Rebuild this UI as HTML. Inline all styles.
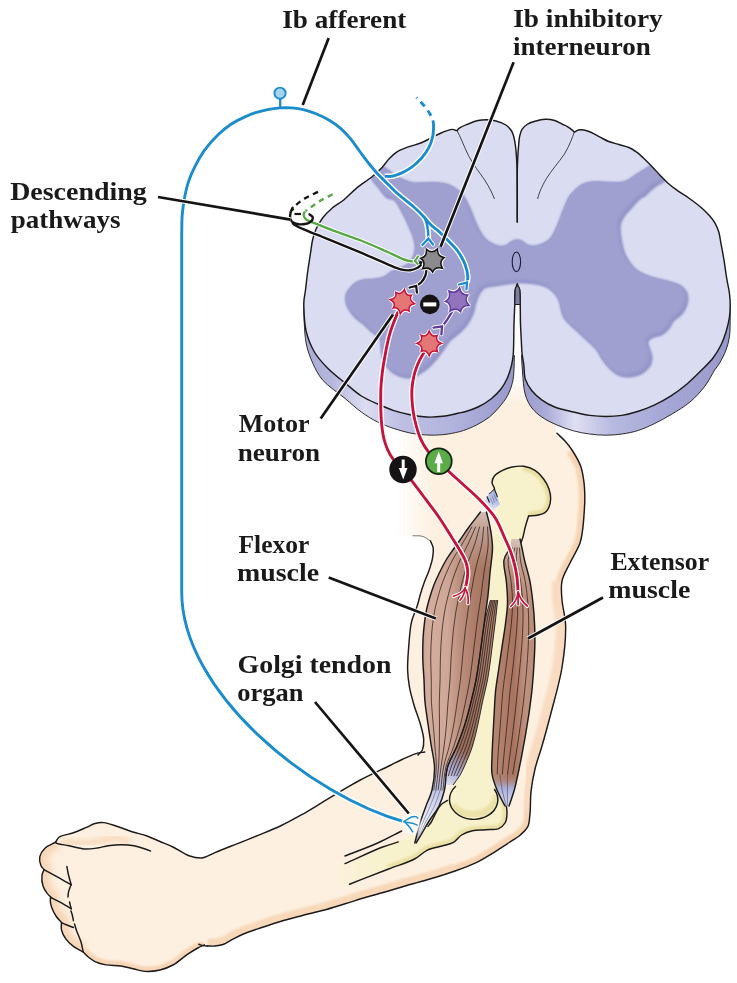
<!DOCTYPE html>
<html lang="en">
<head>
<meta charset="utf-8">
<title>Golgi tendon organ reflex circuit</title>
<style>
html,body{margin:0;padding:0;background:#fff;}
body{width:737px;height:983px;overflow:hidden;}
svg{display:block;}
.lbl{font-family:"Liberation Serif","DejaVu Serif",serif;font-weight:bold;font-size:26px;fill:#1a1a1a;}
.ld{stroke:#111;stroke-width:2.6;fill:none;stroke-linecap:butt;}
.ol{stroke:#1a1a1a;stroke-width:1.2;fill:none;stroke-linejoin:round;stroke-linecap:round;}
</style>
</head>
<body>
<svg width="737" height="983" viewBox="0 0 737 983">
<defs>
<linearGradient id="gFadeX" gradientUnits="userSpaceOnUse" x1="396" y1="0" x2="434" y2="0">
 <stop offset="0" stop-color="#fff" stop-opacity="1"/>
 <stop offset="1" stop-color="#fff" stop-opacity="0"/>
</linearGradient>
<linearGradient id="gFadeY" gradientUnits="userSpaceOnUse" x1="0" y1="375" x2="0" y2="405">
 <stop offset="0" stop-color="#fff" stop-opacity="1"/>
 <stop offset="1" stop-color="#fff" stop-opacity="0"/>
</linearGradient>
<linearGradient id="gMuscF" gradientUnits="userSpaceOnUse" x1="421" y1="0" x2="484" y2="0">
 <stop offset="0" stop-color="#c59c8b"/>
 <stop offset="0.1" stop-color="#d3ad9d"/>
 <stop offset="0.42" stop-color="#cfa797"/>
 <stop offset="0.6" stop-color="#bd917f"/>
 <stop offset="0.85" stop-color="#ad7d6a"/>
 <stop offset="1" stop-color="#a67663"/>
</linearGradient>
<linearGradient id="gMuscB" gradientUnits="userSpaceOnUse" x1="470" y1="0" x2="495" y2="0">
 <stop offset="0" stop-color="#9a6f5e"/>
 <stop offset="1" stop-color="#ae8472"/>
</linearGradient>
<linearGradient id="gMuscE" gradientUnits="userSpaceOnUse" x1="495" y1="0" x2="536" y2="0">
 <stop offset="0" stop-color="#b48672"/>
 <stop offset="0.45" stop-color="#a9745f"/>
 <stop offset="0.75" stop-color="#be917e"/>
 <stop offset="1" stop-color="#b98b78"/>
</linearGradient>
<linearGradient id="gSideL" gradientUnits="userSpaceOnUse" x1="304" y1="0" x2="515" y2="0">
 <stop offset="0" stop-color="#a9aad5"/>
 <stop offset="0.13" stop-color="#b6b7dd"/>
 <stop offset="0.29" stop-color="#dcddf1"/>
 <stop offset="0.46" stop-color="#bebfe3"/>
 <stop offset="0.7" stop-color="#b3b4dd"/>
 <stop offset="0.88" stop-color="#a2a3d2"/>
 <stop offset="1" stop-color="#9899cb"/>
</linearGradient>
<linearGradient id="gSideR" gradientUnits="userSpaceOnUse" x1="520" y1="0" x2="731" y2="0">
 <stop offset="0" stop-color="#9899cb"/>
 <stop offset="0.12" stop-color="#a9aad6"/>
 <stop offset="0.26" stop-color="#dfe0f3"/>
 <stop offset="0.43" stop-color="#b9bae0"/>
 <stop offset="0.66" stop-color="#a7a8d6"/>
 <stop offset="0.86" stop-color="#9fa0d0"/>
 <stop offset="1" stop-color="#9798ca"/>
</linearGradient>
<linearGradient id="gTendF" gradientUnits="userSpaceOnUse" x1="446" y1="762" x2="418" y2="838">
 <stop offset="0" stop-color="#b4b9de" stop-opacity="0"/>
 <stop offset="0.3" stop-color="#b9bee1" stop-opacity="0.95"/>
 <stop offset="0.6" stop-color="#dcdff2"/>
 <stop offset="1" stop-color="#ffffff"/>
</linearGradient>
<linearGradient id="gTendB" gradientUnits="userSpaceOnUse" x1="475" y1="758" x2="455" y2="790">
 <stop offset="0" stop-color="#a9afd9" stop-opacity="0"/>
 <stop offset="0.55" stop-color="#aab0da" stop-opacity="0.9"/>
 <stop offset="1" stop-color="#dfe2f3"/>
</linearGradient>
<linearGradient id="gTendE" gradientUnits="userSpaceOnUse" x1="0" y1="775" x2="0" y2="812">
 <stop offset="0" stop-color="#b48672" stop-opacity="0"/>
 <stop offset="0.35" stop-color="#aab0da"/>
 <stop offset="1" stop-color="#e9ebf7"/>
</linearGradient>
<linearGradient id="gTopF" gradientUnits="userSpaceOnUse" x1="0" y1="508" x2="0" y2="570">
 <stop offset="0" stop-color="#d8c8c0" stop-opacity="0.95"/>
 <stop offset="0.35" stop-color="#cdb3a7" stop-opacity="0.7"/>
 <stop offset="1" stop-color="#c9a898" stop-opacity="0"/>
</linearGradient>
<linearGradient id="gTopE" gradientUnits="userSpaceOnUse" x1="0" y1="537" x2="0" y2="600">
 <stop offset="0" stop-color="#dccbc2" stop-opacity="0.95"/>
 <stop offset="0.4" stop-color="#cdb3a7" stop-opacity="0.6"/>
 <stop offset="1" stop-color="#c9a898" stop-opacity="0"/>
</linearGradient>
<linearGradient id="gTendT" gradientUnits="userSpaceOnUse" x1="497" y1="492" x2="482" y2="512">
 <stop offset="0" stop-color="#9ea8dc"/>
 <stop offset="0.6" stop-color="#d5d9f0"/>
 <stop offset="1" stop-color="#ffffff"/>
</linearGradient>
<linearGradient id="gBoneFade" gradientUnits="userSpaceOnUse" x1="325" y1="0" x2="385" y2="0">
 <stop offset="0" stop-color="#f8f2cc" stop-opacity="0"/>
 <stop offset="1" stop-color="#f8f2cc" stop-opacity="1"/>
</linearGradient>
<filter id="b1" x="-10%" y="-10%" width="120%" height="120%"><feGaussianBlur stdDeviation="0.9"/></filter>
<filter id="b2" x="-20%" y="-20%" width="140%" height="140%"><feGaussianBlur stdDeviation="2"/></filter>
<filter id="b3" x="-20%" y="-20%" width="140%" height="140%"><feGaussianBlur stdDeviation="3"/></filter>
<filter id="b6" x="-20%" y="-20%" width="140%" height="140%"><feGaussianBlur stdDeviation="6"/></filter>
</defs>
<clipPath id="cSkin"><path d="M555.5,426.0C556.0,428.4 555.7,431.0 557.0,433.3C558.5,436.1 562.5,438.2 565.0,441.0C567.5,443.8 569.7,446.4 572.0,450.0C574.9,454.5 578.7,460.7 580.7,466.3C582.6,471.6 583.3,477.1 584.0,482.6C584.7,488.0 584.8,493.5 584.8,498.9C584.8,504.3 584.4,509.6 584.0,515.0C583.6,520.4 583.2,526.4 582.4,531.4C581.8,535.6 581.5,538.7 580.0,543.0C578.0,548.9 573.1,556.5 570.0,563.0C567.1,569.1 563.3,574.8 562.0,581.0C560.7,587.1 561.5,593.3 562.0,600.0C562.6,607.8 565.3,615.5 565.6,625.0C566.0,637.3 564.3,653.2 562.0,667.5C559.6,682.5 554.6,699.1 551.0,713.0C547.9,724.9 544.9,736.0 542.0,746.0C539.6,754.4 536.8,761.3 535.0,769.0C533.2,776.5 531.8,784.2 531.0,791.7C530.2,799.0 530.7,807.1 530.0,813.4C529.5,818.3 529.6,822.7 527.9,826.4C526.3,829.8 523.4,832.3 520.3,835.0C516.7,838.2 511.7,840.8 507.2,843.8C502.3,847.0 497.1,850.5 492.0,853.6C487.0,856.7 482.4,859.6 476.8,862.3C470.3,865.4 462.2,868.4 455.0,871.0C448.2,873.4 442.1,875.4 435.0,877.5C427.2,879.9 418.0,882.2 410.0,884.5C402.6,886.7 395.8,888.9 388.6,891.0C381.4,893.1 374.0,894.9 366.8,897.0C359.5,899.1 352.3,901.6 345.0,903.8C337.8,906.0 330.6,908.3 323.4,910.3C316.2,912.3 308.9,913.8 301.7,915.7C294.5,917.6 287.4,919.4 280.3,921.5C273.1,923.7 265.2,926.4 258.6,928.6C253.1,930.5 248.0,932.1 243.4,934.0C239.4,935.7 235.9,937.6 232.5,939.4C229.4,941.0 226.8,943.1 223.8,944.2C221.0,945.2 217.8,945.7 215.0,946.0C212.4,946.3 210.0,946.0 207.5,946.0L204.3,944.8C202.1,945.9 200.2,946.7 197.8,948.0C194.6,949.8 190.8,952.1 187.0,954.6C182.6,957.6 177.8,962.4 173.0,965.0C168.7,967.3 164.6,968.9 160.0,970.0C155.3,971.1 149.6,971.7 145.0,971.4C141.0,971.2 137.8,969.9 134.0,969.0C129.8,968.1 125.5,966.7 121.0,966.0C116.2,965.3 110.6,965.7 106.0,964.9C102.0,964.2 98.1,963.1 95.0,961.6C92.5,960.4 90.6,958.9 88.6,957.3C86.6,955.7 85.0,953.7 83.2,951.9C79.9,950.1 76.3,948.6 73.4,946.4C70.5,944.3 67.8,941.7 65.8,938.9C63.9,936.2 62.2,932.9 61.5,930.0C60.9,927.5 61.5,925.1 61.5,922.6C59.7,920.4 57.6,918.4 56.0,916.0C54.3,913.4 52.7,910.1 51.7,907.4C50.9,905.2 50.4,902.9 50.3,901.0C50.2,899.5 50.5,898.3 50.6,897.0C49.5,895.9 48.5,895.0 47.4,893.6C45.9,891.6 43.9,888.9 43.0,886.0C42.0,882.8 41.6,878.0 42.0,875.0C42.3,872.9 43.3,871.5 44.0,869.7C43.0,868.3 41.6,867.2 40.9,865.4C40.0,863.1 39.2,859.5 39.8,856.7C40.5,853.7 42.7,850.4 45.2,848.0C48.0,845.4 52.4,844.0 56.0,842.0L56.0,841.5C57.1,840.0 57.5,838.3 59.3,837.0C62.2,835.0 68.8,834.4 73.4,832.8C77.9,831.2 82.5,829.1 86.4,827.4C89.6,826.0 92.0,824.3 95.0,823.5C97.9,822.7 100.6,822.3 103.8,822.6C107.7,822.9 112.3,824.9 116.8,826.3C121.7,827.9 126.9,830.1 132.0,831.7C137.0,833.3 142.2,834.3 147.0,836.0C151.5,837.6 155.7,839.7 160.0,841.5C164.3,843.3 168.5,844.8 173.0,847.0C178.1,849.5 183.8,854.0 189.0,855.8C193.4,857.3 197.7,857.3 202.0,858.0C206.3,856.2 210.1,854.6 215.0,852.6C221.3,850.0 229.5,846.8 236.8,843.9C244.1,841.0 251.4,838.2 258.6,835.2C265.9,832.2 273.2,829.4 280.3,826.0C287.5,822.6 294.6,818.7 301.7,814.7C309.0,810.6 316.2,806.0 323.4,801.7C330.6,797.4 338.4,792.6 345.0,788.7C350.5,785.5 354.3,783.2 360.3,780.0C368.5,775.7 382.1,769.4 390.0,765.5C395.2,762.9 398.6,761.0 403.0,759.0C407.3,757.0 412.0,754.8 416.0,753.6C419.1,752.7 421.8,752.5 424.7,752.0L418.0,755.0C419.4,753.3 421.3,752.1 422.3,750.0C423.5,747.3 423.9,743.3 423.7,739.5C423.5,734.9 421.9,729.6 420.4,724.3C418.7,718.1 415.8,711.1 413.9,704.7C412.2,698.8 410.6,693.2 409.5,687.4C408.5,681.6 407.8,676.2 407.6,670.0C407.4,662.8 408.1,654.7 408.7,646.8C409.4,638.7 409.8,629.2 411.5,622.0C412.9,616.1 415.5,611.4 417.0,606.5C418.4,602.2 419.2,598.4 420.4,594.3C421.6,590.2 422.9,586.1 424.4,582.0C425.9,577.9 427.8,574.0 429.2,569.9C430.6,565.9 432.0,561.5 432.6,557.6C433.2,554.2 433.6,550.9 433.2,548.0C432.8,545.4 432.1,542.9 430.5,541.0C428.7,538.9 425.2,537.2 422.3,536.3C419.4,535.4 416.1,536.0 413.0,535.8L385,536 L385,370 L555.5,370 Z"/></clipPath>
<g clip-path="url(#cSkin)">
<rect x="0" y="360" width="737" height="623" fill="#fdf0e0"/>
<path d="M572.0,450.0C574.9,455.4 578.7,460.7 580.7,466.3C582.6,471.6 583.3,477.1 584.0,482.6C584.7,488.0 584.8,493.5 584.8,498.9C584.8,504.3 584.4,509.6 584.0,515.0C583.6,520.4 583.2,526.4 582.4,531.4C581.8,535.6 581.5,538.7 580.0,543.0C578.0,548.9 573.1,556.5 570.0,563.0C567.1,569.1 563.3,574.8 562.0,581.0C560.7,587.1 561.5,593.3 562.0,600.0C562.6,607.8 565.3,615.5 565.6,625.0C566.0,637.3 564.3,653.2 562.0,667.5C559.6,682.5 554.6,699.1 551.0,713.0C547.9,724.9 544.9,736.0 542.0,746.0C539.6,754.4 536.8,761.3 535.0,769.0C533.2,776.5 531.8,784.2 531.0,791.7C530.2,799.0 530.7,807.1 530.0,813.4C529.5,818.3 529.6,822.7 527.9,826.4C526.3,829.8 523.4,832.3 520.3,835.0C516.7,838.2 511.7,840.8 507.2,843.8C502.3,847.0 497.1,850.5 492.0,853.6C487.0,856.7 482.4,859.6 476.8,862.3C470.3,865.4 462.3,868.1 455.0,871.0" fill="none" stroke="#f6d2b0" stroke-width="12" filter="url(#b1)" opacity="0.95"/>
<path d="M562.0,581.0C562.0,587.3 561.5,593.3 562.0,600.0C562.6,607.8 565.3,615.5 565.6,625.0C566.0,637.3 564.3,653.2 562.0,667.5C559.6,682.5 554.6,699.1 551.0,713.0C547.9,724.9 544.9,736.0 542.0,746.0C539.6,754.4 536.8,761.3 535.0,769.0C533.2,776.5 531.8,784.2 531.0,791.7C530.2,799.0 530.3,806.2 530.0,813.4" fill="none" stroke="#f8dcc1" stroke-width="20" filter="url(#b1)" opacity="0.95"/>
<path d="M455.0,871.0C448.3,873.2 442.1,875.4 435.0,877.5C427.2,879.9 418.0,882.2 410.0,884.5C402.6,886.7 395.8,888.9 388.6,891.0C381.4,893.1 374.0,894.9 366.8,897.0C359.5,899.1 352.3,901.6 345.0,903.8C337.8,906.0 330.6,908.3 323.4,910.3C316.2,912.3 308.9,913.8 301.7,915.7C294.5,917.6 287.4,919.4 280.3,921.5C273.1,923.7 265.2,926.4 258.6,928.6C253.1,930.5 248.0,932.1 243.4,934.0C239.4,935.7 235.9,937.6 232.5,939.4C229.4,941.0 226.8,943.1 223.8,944.2C221.0,945.2 217.8,945.7 215.0,946.0C212.4,946.3 210.0,946.0 207.5,946.0" fill="none" stroke="#f6d2b0" stroke-width="15" filter="url(#b1)" opacity="0.8"/>
<path d="M204.3,944.8C202.1,945.9 200.2,946.7 197.8,948.0C194.6,949.8 190.8,952.1 187.0,954.6C182.6,957.6 177.8,962.4 173.0,965.0C168.7,967.3 164.6,968.9 160.0,970.0C155.3,971.1 149.6,971.7 145.0,971.4C141.0,971.2 137.8,969.9 134.0,969.0C129.8,968.1 125.5,966.7 121.0,966.0C116.2,965.3 110.6,965.7 106.0,964.9C102.0,964.2 98.1,963.1 95.0,961.6C92.5,960.4 90.6,958.9 88.6,957.3C86.6,955.7 85.0,953.7 83.2,951.9" fill="none" stroke="#f6d2b0" stroke-width="10" filter="url(#b1)" opacity="0.9"/>
<path d="M83.2,951.9C79.9,950.1 76.3,948.6 73.4,946.4C70.5,944.3 67.8,941.7 65.8,938.9C63.9,936.2 62.2,932.9 61.5,930.0C60.9,927.5 62.3,924.9 61.5,922.6C60.6,920.2 57.6,918.4 56.0,916.0C54.3,913.4 52.7,910.1 51.7,907.4C50.9,905.2 50.4,902.9 50.3,901.0C50.2,899.5 51.0,898.2 50.6,897.0C50.1,895.7 48.5,895.0 47.4,893.6C45.9,891.6 43.9,888.9 43.0,886.0C42.0,882.8 41.6,878.0 42.0,875.0C42.3,872.9 44.2,871.3 44.0,869.7C43.8,868.1 41.6,867.2 40.9,865.4C40.0,863.1 39.2,859.5 39.8,856.7C40.5,853.7 42.7,850.4 45.2,848.0C48.0,845.4 52.4,844.0 56.0,842.0" fill="none" stroke="#f6d2b0" stroke-width="16" filter="url(#b3)" opacity="0.85"/>
<path d="M62.0,842.0C69.7,842.3 78.2,843.3 85.0,843.0C90.5,842.8 95.0,841.8 100.0,841.0C105.0,840.2 110.0,837.8 115.0,838.0C120.0,838.2 125.0,840.7 130.0,842.0" fill="none" stroke="#f6d2b0" stroke-width="6" filter="url(#b2)" opacity="0.7"/>
<rect x="380" y="360" width="60" height="190" fill="url(#gFadeX)"/>
<rect x="380" y="360" width="220" height="50" fill="url(#gFadeY)"/>
</g>
<path d="M557.0,433.3C559.7,435.9 562.5,438.2 565.0,441.0C567.5,443.8 569.7,446.4 572.0,450.0C574.9,454.5 578.7,460.7 580.7,466.3C582.6,471.6 583.3,477.1 584.0,482.6C584.7,488.0 584.8,493.5 584.8,498.9C584.8,504.3 584.4,509.6 584.0,515.0C583.6,520.4 583.2,526.4 582.4,531.4C581.8,535.6 581.5,538.7 580.0,543.0C578.0,548.9 573.1,556.5 570.0,563.0C567.1,569.1 563.3,574.8 562.0,581.0C560.7,587.1 561.5,593.3 562.0,600.0C562.6,607.8 565.3,615.5 565.6,625.0C566.0,637.3 564.3,653.2 562.0,667.5C559.6,682.5 554.6,699.1 551.0,713.0C547.9,724.9 544.9,736.0 542.0,746.0C539.6,754.4 536.8,761.3 535.0,769.0C533.2,776.5 531.8,784.2 531.0,791.7C530.2,799.0 530.7,807.1 530.0,813.4C529.5,818.3 529.6,822.7 527.9,826.4C526.3,829.8 523.4,832.3 520.3,835.0C516.7,838.2 511.7,840.8 507.2,843.8C502.3,847.0 497.1,850.5 492.0,853.6C487.0,856.7 482.4,859.6 476.8,862.3C470.3,865.4 462.2,868.4 455.0,871.0C448.2,873.4 442.1,875.4 435.0,877.5C427.2,879.9 418.0,882.2 410.0,884.5C402.6,886.7 395.8,888.9 388.6,891.0C381.4,893.1 374.0,894.9 366.8,897.0C359.5,899.1 352.3,901.6 345.0,903.8C337.8,906.0 330.6,908.3 323.4,910.3C316.2,912.3 308.9,913.8 301.7,915.7C294.5,917.6 287.4,919.4 280.3,921.5C273.1,923.7 265.2,926.4 258.6,928.6C253.1,930.5 248.0,932.1 243.4,934.0C239.4,935.7 235.9,937.6 232.5,939.4C229.4,941.0 226.8,943.1 223.8,944.2C221.0,945.2 217.8,945.7 215.0,946.0C212.4,946.3 210.0,946.0 207.5,946.0" fill="none" stroke="#1c1a1a" stroke-width="1.45" stroke-linecap="round" stroke-linejoin="round"/>
<path d="M198.8,944.2C200.2,944.7 201.6,945.3 203.0,945.6C204.5,945.9 206.0,945.9 207.5,946.0" fill="none" stroke="#1c1a1a" stroke-width="1.45" stroke-linecap="round" stroke-linejoin="round"/>
<path d="M204.3,944.8C202.1,945.9 200.2,946.7 197.8,948.0C194.6,949.8 190.8,952.1 187.0,954.6C182.6,957.6 177.8,962.4 173.0,965.0C168.7,967.3 164.6,968.9 160.0,970.0C155.3,971.1 149.6,971.7 145.0,971.4C141.0,971.2 137.8,969.9 134.0,969.0C129.8,968.1 125.5,966.7 121.0,966.0C116.2,965.3 110.6,965.7 106.0,964.9C102.0,964.2 98.1,963.1 95.0,961.6C92.5,960.4 90.6,958.9 88.6,957.3C86.6,955.7 85.0,953.7 83.2,951.9" fill="none" stroke="#1c1a1a" stroke-width="1.45" stroke-linecap="round" stroke-linejoin="round"/>
<path d="M83.2,951.9C79.9,950.1 76.3,948.6 73.4,946.4C70.5,944.3 67.8,941.7 65.8,938.9C63.9,936.2 62.2,932.9 61.5,930.0C60.9,927.5 61.5,925.1 61.5,922.6" fill="none" stroke="#1c1a1a" stroke-width="1.45" stroke-linecap="round" stroke-linejoin="round"/>
<path d="M61.5,922.6C59.7,920.4 57.6,918.4 56.0,916.0C54.3,913.4 52.7,910.1 51.7,907.4C50.9,905.2 50.4,902.9 50.3,901.0C50.2,899.5 50.5,898.3 50.6,897.0" fill="none" stroke="#1c1a1a" stroke-width="1.45" stroke-linecap="round" stroke-linejoin="round"/>
<path d="M50.6,897.0C49.5,895.9 48.5,895.0 47.4,893.6C45.9,891.6 43.9,888.9 43.0,886.0C42.0,882.8 41.6,878.0 42.0,875.0C42.3,872.9 43.3,871.5 44.0,869.7" fill="none" stroke="#1c1a1a" stroke-width="1.45" stroke-linecap="round" stroke-linejoin="round"/>
<path d="M44.0,869.7C43.0,868.3 41.6,867.2 40.9,865.4C40.0,863.1 39.2,859.5 39.8,856.7C40.5,853.7 42.7,850.4 45.2,848.0C48.0,845.4 52.4,844.0 56.0,842.0" fill="none" stroke="#1c1a1a" stroke-width="1.45" stroke-linecap="round" stroke-linejoin="round"/>
<path d="M56.0,841.5C57.1,840.0 57.5,838.3 59.3,837.0C62.2,835.0 68.8,834.4 73.4,832.8C77.9,831.2 82.5,829.1 86.4,827.4C89.6,826.0 92.0,824.3 95.0,823.5C97.9,822.7 100.6,822.3 103.8,822.6C107.7,822.9 112.3,824.9 116.8,826.3C121.7,827.9 126.9,830.1 132.0,831.7C137.0,833.3 142.2,834.3 147.0,836.0C151.5,837.6 155.7,839.7 160.0,841.5C164.3,843.3 168.5,844.8 173.0,847.0C178.1,849.5 183.8,854.0 189.0,855.8C193.4,857.3 197.7,858.5 202.0,858.0C206.4,857.5 210.1,854.6 215.0,852.6C221.3,850.0 229.5,846.8 236.8,843.9C244.1,841.0 251.4,838.2 258.6,835.2C265.9,832.2 273.2,829.4 280.3,826.0C287.5,822.6 294.6,818.7 301.7,814.7C309.0,810.6 316.2,806.0 323.4,801.7C330.6,797.4 338.4,792.6 345.0,788.7C350.5,785.5 354.3,783.2 360.3,780.0C368.5,775.7 382.1,769.4 390.0,765.5C395.2,762.9 398.6,761.0 403.0,759.0C407.3,757.0 412.0,754.8 416.0,753.6C419.1,752.7 421.8,752.5 424.7,752.0" fill="none" stroke="#1c1a1a" stroke-width="1.45" stroke-linecap="round" stroke-linejoin="round"/>
<path d="M418.0,755.0C419.4,753.3 421.3,752.1 422.3,750.0C423.5,747.3 423.9,743.3 423.7,739.5C423.5,734.9 421.9,729.6 420.4,724.3C418.7,718.1 415.8,711.1 413.9,704.7C412.2,698.8 410.6,693.2 409.5,687.4C408.5,681.6 407.8,676.2 407.6,670.0C407.4,662.8 408.1,654.7 408.7,646.8C409.4,638.7 409.8,629.2 411.5,622.0C412.9,616.1 415.5,611.4 417.0,606.5C418.4,602.2 419.2,598.4 420.4,594.3C421.6,590.2 422.9,586.1 424.4,582.0C425.9,577.9 427.8,574.0 429.2,569.9C430.6,565.9 432.0,561.5 432.6,557.6C433.2,554.2 433.6,550.9 433.2,548.0C432.8,545.4 431.4,543.3 430.5,541.0" fill="none" stroke="#1c1a1a" stroke-width="1.45" stroke-linecap="round" stroke-linejoin="round"/>
<path d="M430.5,541.0C427.8,539.4 425.2,537.2 422.3,536.3C419.4,535.4 416.1,536.0 413.0,535.8" fill="none" stroke="#1c1a1a" stroke-width="1.0" stroke-linecap="round" opacity="0.6"/>
<path d="M56.0,843.0C56.7,843.2 57.1,843.4 58.0,843.7C60.2,844.3 65.0,845.0 69.0,845.8C73.7,846.7 79.4,848.7 84.3,849.0C88.8,849.3 93.2,848.6 97.3,848.0C101.1,847.5 104.2,846.3 108.0,845.8C112.1,845.2 116.7,844.7 121.0,844.7C125.3,844.7 129.9,845.0 134.0,845.8C137.9,846.5 142.0,848.0 145.0,849.0C147.2,849.7 148.7,850.3 150.5,851.0" fill="none" stroke="#1c1a1a" stroke-width="1.45" stroke-linecap="round" stroke-linejoin="round"/>
<path d="M44.0,869.7C48.7,872.2 53.6,874.7 58.2,877.3C62.7,879.8 66.9,882.4 71.3,885.0" fill="none" stroke="#1c1a1a" stroke-width="1.45" stroke-linecap="round" stroke-linejoin="round"/>
<path d="M50.6,897.5C53.9,899.1 57.1,900.5 60.4,902.3C64.0,904.2 67.7,906.6 71.3,908.8" fill="none" stroke="#1c1a1a" stroke-width="1.45" stroke-linecap="round" stroke-linejoin="round"/>
<path d="M61.5,922.6C63.3,923.4 65.1,924.2 67.0,925.0C69.0,925.8 71.3,926.7 73.4,927.5" fill="none" stroke="#1c1a1a" stroke-width="1.45" stroke-linecap="round" stroke-linejoin="round"/>
<path d="M66.9,866.5C67.4,869.3 67.8,872.1 68.5,875.0C69.3,878.2 70.4,881.7 71.3,885.0" fill="none" stroke="#1c1a1a" stroke-width="1.45" stroke-linecap="round" stroke-linejoin="round"/>
<path d="M70.5,886.0C69.8,888.0 68.9,890.1 68.5,892.0C68.1,893.7 68.2,895.3 68.0,897.0" fill="none" stroke="#1c1a1a" stroke-width="1.45" stroke-linecap="round" stroke-linejoin="round"/>
<path d="M69.5,902.0C69.8,903.3 70.2,904.8 70.5,906.0C70.8,907.0 71.0,907.9 71.3,908.8" fill="none" stroke="#1c1a1a" stroke-width="1.45" stroke-linecap="round" stroke-linejoin="round"/>
<path d="M71.0,911.0C71.5,912.7 72.1,914.3 72.5,916.0C72.9,917.6 73.1,919.1 73.4,920.7" fill="none" stroke="#1c1a1a" stroke-width="1.45" stroke-linecap="round" stroke-linejoin="round"/>
<path d="M74.5,924.0C75.2,926.3 75.8,928.4 76.7,931.0C77.9,934.3 79.9,938.4 81.0,942.0C82.0,945.3 82.5,948.6 83.2,951.9" fill="none" stroke="#1c1a1a" stroke-width="1.45" stroke-linecap="round" stroke-linejoin="round"/>
<path d="M335.0,867.5C338.3,866.2 340.6,865.4 345.0,863.6C353.5,860.1 372.1,851.1 382.0,847.3C388.5,844.8 392.9,844.1 398.3,841.9C403.9,839.7 409.8,836.7 415.0,834.0C419.7,831.5 425.2,828.9 428.0,826.4C429.7,824.9 430.2,823.8 431.3,822.0C432.7,819.7 434.0,816.2 435.6,813.4C437.2,810.5 438.8,806.9 441.0,804.7C442.9,802.8 445.3,801.8 447.5,800.4L470,790 L496.4,785.0C498.6,785.8 501.4,785.7 502.9,787.4C504.7,789.5 504.4,794.1 505.0,798.0C505.8,802.6 507.2,808.9 507.0,813.4C506.9,817.0 506.5,820.4 505.0,823.0C503.6,825.4 501.3,827.4 498.6,828.6C495.2,830.0 489.9,829.3 485.5,829.7C481.2,830.1 476.6,829.9 472.5,830.8C468.6,831.7 464.9,833.0 461.6,835.0C458.4,837.0 456.3,840.9 453.0,842.7C449.7,844.5 446.0,844.8 442.0,846.0C437.4,847.4 431.6,848.1 427.0,850.3C422.5,852.5 419.7,856.3 414.6,859.0C407.7,862.7 398.1,865.3 388.6,869.0C376.9,873.5 358.1,880.8 349.5,884.2C345.3,885.9 343.2,886.7 340.0,888.0Z" fill="url(#gBoneFade)"/>
<clipPath id="cUlna"><path d="M335.0,867.5C338.3,866.2 340.6,865.4 345.0,863.6C353.5,860.1 372.1,851.1 382.0,847.3C388.5,844.8 392.9,844.1 398.3,841.9C403.9,839.7 409.8,836.7 415.0,834.0C419.7,831.5 425.2,828.9 428.0,826.4C429.7,824.9 430.2,823.8 431.3,822.0C432.7,819.7 434.0,816.2 435.6,813.4C437.2,810.5 438.8,806.9 441.0,804.7C442.9,802.8 445.3,801.8 447.5,800.4L470,790 L496.4,785.0C498.6,785.8 501.4,785.7 502.9,787.4C504.7,789.5 504.4,794.1 505.0,798.0C505.8,802.6 507.2,808.9 507.0,813.4C506.9,817.0 506.5,820.4 505.0,823.0C503.6,825.4 501.3,827.4 498.6,828.6C495.2,830.0 489.9,829.3 485.5,829.7C481.2,830.1 476.6,829.9 472.5,830.8C468.6,831.7 464.9,833.0 461.6,835.0C458.4,837.0 456.3,840.9 453.0,842.7C449.7,844.5 446.0,844.8 442.0,846.0C437.4,847.4 431.6,848.1 427.0,850.3C422.5,852.5 419.7,856.3 414.6,859.0C407.7,862.7 398.1,865.3 388.6,869.0C376.9,873.5 358.1,880.8 349.5,884.2C345.3,885.9 343.2,886.7 340.0,888.0Z"/></clipPath>
<g clip-path="url(#cUlna)">
<path d="M388.6,869.0C397.3,865.7 407.7,862.7 414.6,859.0C419.7,856.3 422.5,852.5 427.0,850.3C431.6,848.1 437.4,847.4 442.0,846.0C446.0,844.8 449.7,844.5 453.0,842.7C456.3,840.9 458.4,837.0 461.6,835.0C464.9,833.0 468.6,831.7 472.5,830.8C476.6,829.9 481.2,830.1 485.5,829.7C489.9,829.3 495.2,830.0 498.6,828.6C501.3,827.4 503.6,825.4 505.0,823.0C506.5,820.4 506.9,817.0 507.0,813.4C507.2,808.9 505.8,802.6 505.0,798.0C504.4,794.1 504.7,789.5 502.9,787.4C501.4,785.7 498.6,785.8 496.4,785.0" fill="none" stroke="#e8dea0" stroke-width="9" filter="url(#b1)" opacity="0.9"/>
</g>
<path d="M349.5,884.2C362.5,879.1 376.9,873.5 388.6,869.0C398.1,865.3 407.7,862.7 414.6,859.0C419.7,856.3 422.5,852.5 427.0,850.3C431.6,848.1 437.4,847.4 442.0,846.0C446.0,844.8 449.7,844.5 453.0,842.7C456.3,840.9 458.4,837.0 461.6,835.0C464.9,833.0 468.6,831.7 472.5,830.8C476.6,829.9 481.2,830.1 485.5,829.7C489.9,829.3 495.2,830.0 498.6,828.6C501.3,827.4 503.6,825.4 505.0,823.0C506.5,820.4 506.9,817.0 507.0,813.4C507.2,808.9 505.8,802.6 505.0,798.0C504.4,794.1 504.7,789.5 502.9,787.4C501.4,785.7 498.6,785.8 496.4,785.0" fill="none" stroke="#1c1a1a" stroke-width="1.45" stroke-linecap="round" stroke-linejoin="round"/>
<path d="M345.0,856.0C355.9,851.7 367.7,847.5 377.7,843.0C386.4,839.1 393.6,835.0 401.6,831.0" fill="none" stroke="#1c1a1a" stroke-width="1.45" stroke-linecap="round" stroke-linejoin="round"/>
<path d="M345.0,863.6C357.3,858.2 372.1,851.1 382.0,847.3C388.5,844.8 392.9,843.7 398.3,841.9" fill="none" stroke="#1c1a1a" stroke-width="1.45" stroke-linecap="round" stroke-linejoin="round"/>
<path d="M428.0,826.4C429.1,824.9 430.2,823.8 431.3,822.0C432.7,819.7 434.0,816.2 435.6,813.4C437.2,810.5 438.8,806.9 441.0,804.7C442.9,802.8 445.3,801.8 447.5,800.4" fill="none" stroke="#1c1a1a" stroke-width="1.45" stroke-linecap="round" stroke-linejoin="round"/>
<path d="M487.0,496.5C487.8,495.7 488.5,495.0 489.5,494.0C490.9,492.6 494.0,490.9 494.4,489.0C494.8,487.1 492.0,484.8 492.0,482.6C492.0,480.4 492.9,477.9 494.4,476.0C496.2,473.7 499.6,471.9 502.6,470.4C505.6,468.9 508.9,467.7 512.3,467.0C515.9,466.3 520.0,465.8 523.7,466.3C527.5,466.9 531.7,468.3 535.0,470.4C538.2,472.4 541.0,475.4 543.3,478.5C545.7,481.6 547.8,485.4 549.0,489.0C550.1,492.3 550.7,495.8 550.6,498.9C550.6,501.7 550.0,504.6 549.0,507.0C548.1,509.2 546.8,511.4 545.0,512.7C543.2,514.0 540.9,514.5 538.4,515.0C535.5,515.6 531.9,515.7 528.6,516.0L528.6,516.0C527.5,519.5 526.4,522.8 525.4,526.5C524.2,530.7 523.8,535.2 522.0,540.0C519.7,546.1 514.6,553.1 512.0,560.0C509.4,567.0 507.1,574.4 506.4,581.7C505.7,588.9 507.7,596.2 507.5,603.4C507.3,610.6 506.2,617.8 505.3,625.0C504.4,632.3 502.9,638.8 502.0,646.8C500.9,656.7 501.3,670.0 499.9,680.0C498.7,688.3 496.1,694.3 495.0,702.6C493.6,712.4 493.5,725.3 493.0,735.0C492.6,743.0 492.2,750.0 492.0,756.8C491.9,762.9 491.5,769.2 492.0,774.0C492.4,777.5 493.3,780.0 494.0,783.0L450.0,789.5C451.7,787.3 453.5,785.3 455.0,783.0C456.5,780.8 457.5,778.6 459.0,776.0C460.8,772.8 463.0,769.2 465.0,765.0C467.5,759.6 470.4,752.6 472.5,746.0C474.7,739.0 476.0,731.3 477.5,724.0C479.0,716.7 480.1,709.3 481.5,702.0C482.9,694.7 484.8,687.4 486.0,680.0C487.3,672.6 488.4,665.9 489.0,657.7C489.7,647.9 489.5,635.3 489.5,625.0C489.5,615.8 489.3,606.8 489.0,599.0C488.7,592.6 488.2,587.8 487.9,581.7C487.5,574.9 485.9,566.5 486.8,560.0C487.6,554.5 490.6,550.4 491.9,545.0C493.4,539.0 494.1,531.5 495.0,525.6C495.8,520.7 496.0,515.9 497.0,512.0C497.8,508.9 499.0,506.7 500.0,504.0Z" fill="#f8f2cc"/>
<clipPath id="cHead"><path d="M487.0,496.5C487.8,495.7 488.5,495.0 489.5,494.0C490.9,492.6 494.0,490.9 494.4,489.0C494.8,487.1 492.0,484.8 492.0,482.6C492.0,480.4 492.9,477.9 494.4,476.0C496.2,473.7 499.6,471.9 502.6,470.4C505.6,468.9 508.9,467.7 512.3,467.0C515.9,466.3 520.0,465.8 523.7,466.3C527.5,466.9 531.7,468.3 535.0,470.4C538.2,472.4 541.0,475.4 543.3,478.5C545.7,481.6 547.8,485.4 549.0,489.0C550.1,492.3 550.7,495.8 550.6,498.9C550.6,501.7 550.0,504.6 549.0,507.0C548.1,509.2 546.8,511.4 545.0,512.7C543.2,514.0 540.9,514.5 538.4,515.0C535.5,515.6 531.9,515.7 528.6,516.0L520,530 Z"/></clipPath>
<g clip-path="url(#cHead)">
<path d="M523.7,466.3C527.5,467.7 531.7,468.3 535.0,470.4C538.2,472.4 541.0,475.4 543.3,478.5C545.7,481.6 547.8,485.4 549.0,489.0C550.1,492.3 550.7,495.8 550.6,498.9C550.6,501.7 550.0,504.6 549.0,507.0C548.1,509.2 546.8,511.4 545.0,512.7C543.2,514.0 540.9,514.5 538.4,515.0C535.5,515.6 531.9,515.7 528.6,516.0" fill="none" stroke="#e8dea0" stroke-width="9" filter="url(#b1)"/>
</g>
<path d="M489.5,494.0C491.1,492.3 494.0,490.9 494.4,489.0C494.8,487.1 492.0,484.8 492.0,482.6C492.0,480.4 492.9,477.9 494.4,476.0C496.2,473.7 499.6,471.9 502.6,470.4C505.6,468.9 508.9,467.7 512.3,467.0C515.9,466.3 520.0,465.8 523.7,466.3C527.5,466.9 531.7,468.3 535.0,470.4C538.2,472.4 541.0,475.4 543.3,478.5C545.7,481.6 547.8,485.4 549.0,489.0C550.1,492.3 550.7,495.8 550.6,498.9C550.6,501.7 550.0,504.6 549.0,507.0C548.1,509.2 546.8,511.4 545.0,512.7C543.2,514.0 540.9,514.5 538.4,515.0C535.5,515.6 531.9,515.7 528.6,516.0" fill="none" stroke="#1c1a1a" stroke-width="1.45" stroke-linecap="round" stroke-linejoin="round"/>
<path d="M528.6,516.0C527.5,519.5 526.4,522.8 525.4,526.5C524.2,530.7 523.8,535.2 522.0,540.0C519.7,546.1 515.3,553.3 512.0,560.0" fill="none" stroke="#1c1a1a" stroke-width="1.45" stroke-linecap="round" stroke-linejoin="round"/>
<ellipse cx="473.3" cy="799.3" rx="24.2" ry="19.8" fill="#f8f2cc"/>
<clipPath id="cBall"><ellipse cx="473.3" cy="799.3" rx="24.2" ry="19.8"/></clipPath>
<g clip-path="url(#cBall)">
<path d="M452,805 A24.2,19.8 0 0 0 497,795" fill="none" stroke="#e8dea0" stroke-width="8" filter="url(#b1)" opacity="0.8"/>
</g>
<path d="M455.5,786.5 A24.2,19.8 0 1 0 494.5,789.5" fill="none" stroke="#1c1a1a" stroke-width="1.45" stroke-linecap="round" stroke-linejoin="round"/>
<path d="M480.5,512.0C476.7,517.0 472.5,522.1 469.0,527.0C465.8,531.4 462.7,536.2 460.0,540.0C457.9,543.0 456.4,545.1 454.3,548.0C451.8,551.6 448.6,555.8 446.1,560.0C443.6,564.2 441.4,568.7 439.3,573.0C437.3,577.1 435.5,581.0 433.9,585.0C432.4,589.0 431.1,592.9 429.9,597.0C428.6,601.2 427.5,605.1 426.5,610.0C425.2,616.3 424.1,624.3 423.5,632.0C422.8,640.3 422.7,649.7 422.8,658.0C422.9,665.6 423.6,672.7 424.0,680.0C424.4,687.3 424.3,694.7 425.0,702.0C425.7,709.3 427.0,716.7 428.0,724.0C429.1,731.3 430.2,738.8 431.3,746.0C432.4,753.1 434.3,759.8 434.5,767.0C434.7,774.5 433.6,783.1 432.0,790.0C430.6,795.9 427.9,800.7 426.0,806.0C424.1,811.3 422.0,816.9 420.4,822.0C419.0,826.5 417.8,831.2 416.8,835.0C416.0,838.0 415.5,840.3 414.8,843.0L416.2,843.0C417.8,840.3 419.2,838.0 421.0,835.0C423.2,831.2 425.7,826.5 428.5,822.0C431.6,816.9 436.3,811.5 439.0,806.0C441.5,800.8 443.1,795.9 444.5,790.0C446.1,783.1 445.4,774.3 447.5,767.0C449.6,759.7 454.1,753.1 457.0,746.0C459.9,738.8 462.7,731.4 465.0,724.0C467.3,716.7 469.2,709.4 471.0,702.0C472.8,694.7 474.6,687.4 476.0,680.0C477.4,672.7 478.4,665.6 479.5,658.0C480.7,649.7 481.9,640.3 483.0,632.0C484.0,624.4 485.1,616.4 486.0,610.0C486.7,605.1 487.3,601.3 487.8,597.0C488.3,592.9 488.6,589.0 489.0,585.0C489.4,581.0 489.6,577.1 490.0,573.0C490.4,568.8 491.1,564.2 491.5,560.0C491.9,555.9 492.5,551.6 492.5,548.0C492.5,545.1 492.3,543.0 492.0,540.0C491.6,536.2 490.9,531.5 490.0,527.0C489.1,522.2 487.7,517.0 486.5,512.0Z" fill="url(#gMuscF)"/>
<path d="M490.5,600.0C488.7,606.7 486.4,613.3 485.0,620.0C483.6,626.6 483.0,633.3 482.0,640.0C481.0,646.7 480.2,653.3 479.2,660.0C478.2,666.7 477.3,673.2 476.0,680.0C474.6,687.2 472.8,694.7 471.0,702.0C469.2,709.4 467.3,716.7 465.0,724.0C462.7,731.4 459.8,739.0 457.0,746.0C454.3,752.6 450.5,759.5 448.5,765.0C447.0,769.1 446.4,772.5 445.5,776.0C444.7,779.1 444.2,782.0 443.5,785.0L453.0,785.0C455.2,782.0 457.5,779.2 459.5,776.0C461.6,772.6 463.1,769.2 465.0,765.0C467.4,759.6 470.4,752.6 472.5,746.0C474.7,739.0 476.3,731.4 478.0,724.0C479.7,716.7 480.9,709.3 482.5,702.0C484.1,694.7 486.1,687.2 487.5,680.0C488.8,673.2 489.6,666.7 490.5,660.0C491.4,653.3 492.2,646.7 493.0,640.0C493.8,633.3 494.7,626.7 495.5,620.0C496.3,613.3 497.0,606.7 497.7,600.0Z" fill="url(#gMuscB)"/>
<path d="M512.0,539.0C511.3,542.0 511.1,544.9 510.0,548.0C508.7,551.8 504.8,555.3 504.0,560.0C502.9,566.0 505.8,574.5 506.4,581.7C507.0,588.9 507.7,596.2 507.5,603.4C507.3,610.6 506.2,617.8 505.3,625.0C504.4,632.3 503.1,639.4 502.0,646.8C500.9,654.4 499.7,662.4 498.6,670.0C497.5,677.4 496.2,684.5 495.5,691.7C494.8,698.9 494.6,706.2 494.2,713.4C493.8,720.6 493.4,727.8 493.0,735.0C492.6,742.2 492.2,750.0 492.0,756.8C491.9,762.9 491.2,768.4 492.0,774.0C492.8,779.5 494.9,784.8 497.0,790.0C499.2,795.4 502.3,800.7 505.0,806.0L509.0,806.0C510.8,800.7 512.8,795.4 514.3,790.0C515.8,784.7 516.8,779.4 518.0,774.0C519.2,768.4 520.3,762.9 521.5,756.8C522.8,750.0 524.2,742.3 525.5,735.0C526.7,727.8 527.9,720.6 529.0,713.4C530.0,706.2 531.0,698.9 531.8,691.7C532.6,684.5 533.1,677.4 533.6,670.0C534.1,662.4 534.6,654.4 534.8,646.8C535.0,639.4 534.9,632.2 534.6,625.0C534.3,617.8 533.8,610.6 533.0,603.4C532.2,596.2 531.4,588.9 530.0,581.7C528.6,574.4 525.9,566.2 524.5,560.0C523.4,555.4 522.8,551.7 522.0,548.0C521.3,544.8 520.7,542.0 520.0,539.0Z" fill="url(#gMuscE)"/>
<path d="M480.5,512.0C476.7,517.0 472.5,522.1 469.0,527.0C465.8,531.4 462.7,536.2 460.0,540.0C457.9,543.0 456.4,545.1 454.3,548.0C451.8,551.6 448.6,555.8 446.1,560.0C443.6,564.2 441.4,568.7 439.3,573.0C437.3,577.1 435.7,581.0 433.9,585.0L489.0,585.0C489.3,581.0 489.6,577.1 490.0,573.0C490.4,568.8 491.1,564.2 491.5,560.0C491.9,555.9 492.5,551.6 492.5,548.0C492.5,545.1 492.3,543.0 492.0,540.0C491.6,536.2 490.9,531.5 490.0,527.0C489.1,522.2 487.7,517.0 486.5,512.0Z" fill="url(#gTopF)"/>
<path d="M512.0,539.0C511.3,542.0 511.1,544.9 510.0,548.0C508.7,551.8 504.8,555.3 504.0,560.0C502.9,566.0 505.8,574.5 506.4,581.7C507.0,588.9 507.1,596.2 507.5,603.4L533.0,603.4C532.0,596.2 531.4,588.9 530.0,581.7C528.6,574.4 525.9,566.2 524.5,560.0C523.4,555.4 522.8,551.7 522.0,548.0C521.3,544.8 520.7,542.0 520.0,539.0Z" fill="url(#gTopE)"/>
<path d="M490.5,600.0C488.7,606.7 486.4,613.3 485.0,620.0C483.6,626.6 483.0,633.3 482.0,640.0C481.0,646.7 480.2,653.3 479.2,660.0C478.2,666.7 477.3,673.2 476.0,680.0C474.6,687.2 472.8,694.7 471.0,702.0C469.2,709.4 467.3,716.7 465.0,724.0C462.7,731.4 459.8,739.0 457.0,746.0C454.3,752.6 450.5,759.5 448.5,765.0C447.0,769.1 446.4,772.5 445.5,776.0C444.7,779.1 444.2,782.0 443.5,785.0L453.0,785.0C455.2,782.0 457.5,779.2 459.5,776.0C461.6,772.6 463.1,769.2 465.0,765.0C467.4,759.6 470.4,752.6 472.5,746.0C474.7,739.0 476.3,731.4 478.0,724.0C479.7,716.7 480.9,709.3 482.5,702.0C484.1,694.7 486.1,687.2 487.5,680.0C488.8,673.2 489.6,666.7 490.5,660.0C491.4,653.3 492.2,646.7 493.0,640.0C493.8,633.3 494.7,626.7 495.5,620.0C496.3,613.3 497.0,606.7 497.7,600.0Z" fill="url(#gTendB)"/>
<path d="M428.0,724.0C429.1,731.3 430.2,738.8 431.3,746.0C432.4,753.1 434.3,759.8 434.5,767.0C434.7,774.5 433.6,783.1 432.0,790.0C430.6,795.9 427.9,800.7 426.0,806.0C424.1,811.3 422.0,816.9 420.4,822.0C419.0,826.5 417.8,831.2 416.8,835.0C416.0,838.0 415.5,840.3 414.8,843.0L416.2,843.0C417.8,840.3 419.2,838.0 421.0,835.0C423.2,831.2 425.7,826.5 428.5,822.0C431.6,816.9 436.3,811.5 439.0,806.0C441.5,800.8 443.1,795.9 444.5,790.0C446.1,783.1 445.4,774.3 447.5,767.0C449.6,759.7 454.1,753.1 457.0,746.0C459.9,738.8 462.3,731.3 465.0,724.0Z" fill="url(#gTendF)"/>
<path d="M492.0,756.8C492.0,762.5 491.2,768.4 492.0,774.0C492.8,779.5 494.9,784.8 497.0,790.0C499.2,795.4 502.3,800.7 505.0,806.0L509.0,806.0C510.8,800.7 512.8,795.4 514.3,790.0C515.8,784.7 516.8,779.4 518.0,774.0C519.2,768.4 520.3,762.5 521.5,756.8Z" fill="url(#gTendE)"/>
<path d="M487,496.3 L494.3,489.8 L500,504.4 L492.7,510 L480.5,512.6 Z" fill="url(#gTendT)"/>
<path d="M471.9,527.0C469.5,531.3 466.7,536.2 464.5,540.0C462.7,543.0 461.4,545.1 459.6,548.0C457.5,551.6 454.7,555.9 452.5,560.0C450.2,564.2 448.2,568.7 446.4,573.0C444.6,577.1 443.0,581.0 441.6,585.0C440.2,589.0 439.1,592.9 438.0,597.0C436.9,601.2 435.8,605.1 434.8,610.0C433.6,616.3 432.5,624.3 431.8,632.0C431.1,640.3 430.8,649.7 430.7,658.0C430.7,665.6 431.2,672.7 431.3,680.0C431.4,687.3 431.1,694.7 431.4,702.0C431.8,709.3 432.6,716.7 433.2,724.0C433.8,731.3 434.4,738.8 434.9,746.0C435.4,753.1 436.5,759.8 436.3,767.0C436.2,774.5 434.6,782.3 433.8,790.0" fill="none" stroke="#2a1d18" stroke-width="0.75" stroke-linecap="round"/>
<path d="M475.5,527.0C473.6,531.3 471.6,536.2 469.9,540.0C468.6,543.0 467.6,545.1 466.1,548.0C464.4,551.6 462.0,555.9 460.2,560.0C458.3,564.2 456.6,568.7 455.0,573.0C453.5,577.1 452.2,581.0 451.0,585.0C449.8,589.0 448.8,592.9 447.8,597.0C446.8,601.2 445.8,605.1 444.9,610.0C443.8,616.4 442.7,624.3 441.9,632.0C441.1,640.3 440.7,649.7 440.4,658.0C440.1,665.6 440.3,672.7 440.1,680.0C439.9,687.3 439.4,694.7 439.3,702.0C439.2,709.3 439.5,716.7 439.5,724.0C439.5,731.3 439.4,738.8 439.3,746.0C439.1,753.1 439.1,759.9 438.5,767.0C438.0,774.5 436.8,782.3 435.9,790.0" fill="none" stroke="#2a1d18" stroke-width="0.75" stroke-linecap="round"/>
<path d="M479.5,527.0C478.3,531.3 477.1,536.2 476.0,540.0C475.1,543.0 474.4,545.1 473.4,548.0C472.1,551.6 470.2,555.9 468.8,560.0C467.3,564.2 465.9,568.7 464.6,573.0C463.5,577.1 462.4,581.0 461.4,585.0C460.5,589.0 459.7,592.9 458.9,597.0C458.0,601.2 457.1,605.1 456.2,610.0C455.2,616.4 454.1,624.3 453.2,632.0C452.4,640.3 451.7,649.7 451.1,658.0C450.6,665.6 450.5,672.7 450.0,680.0C449.5,687.3 448.6,694.7 448.0,702.0C447.4,709.3 447.1,716.7 446.5,724.0C445.9,731.3 445.1,738.8 444.1,746.0C443.2,753.1 442.0,759.8 441.0,767.0C440.0,774.5 439.2,782.3 438.2,790.0" fill="none" stroke="#2a1d18" stroke-width="0.75" stroke-linecap="round"/>
<path d="M483.7,527.0C483.3,531.3 482.9,536.2 482.4,540.0C482.0,543.0 481.7,545.1 481.0,548.0C480.3,551.6 478.9,555.9 477.9,560.0C476.8,564.2 475.7,568.7 474.8,573.0C473.9,577.1 473.2,581.0 472.5,585.0C471.7,589.0 471.1,592.9 470.4,597.0C469.7,601.2 468.9,605.1 468.1,610.0C467.2,616.4 466.1,624.4 465.1,632.0C464.2,640.3 463.3,649.7 462.5,658.0C461.7,665.6 461.3,672.7 460.4,680.0C459.5,687.3 458.3,694.7 457.2,702.0C456.1,709.3 455.2,716.7 453.9,724.0C452.6,731.4 451.0,738.8 449.3,746.0C447.6,753.1 445.0,759.8 443.6,767.0C442.1,774.4 441.7,782.3 440.8,790.0" fill="none" stroke="#2a1d18" stroke-width="0.75" stroke-linecap="round"/>
<path d="M487.5,527.0C487.7,531.3 488.1,536.2 488.2,540.0C488.2,543.0 488.2,545.1 487.9,548.0C487.6,551.6 486.7,555.9 486.1,560.0C485.4,564.2 484.5,568.7 483.9,573.0C483.3,577.1 482.9,581.0 482.4,585.0C481.9,589.0 481.4,592.9 480.9,597.0C480.3,601.3 479.6,605.1 478.9,610.0C477.9,616.4 476.8,624.4 475.9,632.0C474.8,640.3 473.8,649.7 472.7,658.0C471.7,665.6 471.0,672.7 469.8,680.0C468.6,687.4 467.0,694.7 465.5,702.0C463.9,709.3 462.5,716.7 460.6,724.0C458.6,731.4 456.4,738.8 453.9,746.0C451.5,753.1 447.8,759.7 445.9,767.0C444.1,774.4 444.0,782.3 443.0,790.0" fill="none" stroke="#2a1d18" stroke-width="0.75" stroke-linecap="round"/>
<path d="M436.1,790.0C434.2,795.3 432.4,800.7 430.3,806.0C428.1,811.4 425.2,816.9 423.1,822.0C421.2,826.5 419.6,831.2 418.2,835.0C417.1,838.0 416.2,840.3 415.3,843.0" fill="none" stroke="#5a5a78" stroke-width="0.55"/>
<path d="M440.2,790.0C438.4,795.3 436.9,800.8 434.6,806.0C432.1,811.4 428.4,816.9 425.7,822.0C423.4,826.5 421.4,831.2 419.6,835.0C418.1,838.0 417.0,840.3 415.7,843.0" fill="none" stroke="#5a5a78" stroke-width="0.55"/>
<path d="M491.9,600.0C490.3,606.7 488.4,613.3 487.1,620.0C485.8,626.6 485.1,633.3 484.2,640.0C483.3,646.7 482.4,653.3 481.5,660.0C480.5,666.7 479.6,673.2 478.3,680.0C476.9,687.2 475.1,694.7 473.3,702.0C471.5,709.3 469.8,716.7 467.6,724.0C465.4,731.4 462.8,739.0 460.1,746.0C457.5,752.6 453.9,759.5 451.8,765.0C450.2,769.1 449.5,772.3 448.3,776.0" fill="none" stroke="#2e201a" stroke-width="0.8"/>
<path d="M493.4,600.0C492.0,606.7 490.4,613.3 489.2,620.0C488.0,626.6 487.3,633.3 486.4,640.0C485.5,646.7 484.7,653.3 483.7,660.0C482.8,666.7 481.9,673.2 480.6,680.0C479.2,687.2 477.3,694.7 475.6,702.0C473.9,709.3 472.3,716.7 470.2,724.0C468.1,731.4 465.8,739.0 463.2,746.0C460.7,752.6 457.3,759.5 455.1,765.0C453.5,769.1 452.4,772.3 451.1,776.0" fill="none" stroke="#2e201a" stroke-width="0.8"/>
<path d="M494.8,600.0C493.6,606.7 492.3,613.3 491.3,620.0C490.3,626.7 489.5,633.3 488.6,640.0C487.7,646.7 486.9,653.3 486.0,660.0C485.0,666.7 484.2,673.2 482.9,680.0C481.5,687.2 479.6,694.7 477.9,702.0C476.2,709.3 474.7,716.7 472.8,724.0C470.9,731.4 468.8,739.0 466.3,746.0C463.9,752.6 460.7,759.5 458.4,765.0C456.7,769.2 455.4,772.3 453.9,776.0" fill="none" stroke="#2e201a" stroke-width="0.8"/>
<path d="M496.3,600.0C495.3,606.7 494.3,613.3 493.4,620.0C492.5,626.7 491.7,633.3 490.8,640.0C489.9,646.7 489.2,653.3 488.2,660.0C487.3,666.7 486.5,673.2 485.2,680.0C483.8,687.2 481.8,694.7 480.2,702.0C478.6,709.3 477.2,716.7 475.4,724.0C473.6,731.4 471.8,739.0 469.4,746.0C467.2,752.6 464.0,759.5 461.7,765.0C459.9,769.2 458.4,772.3 456.7,776.0" fill="none" stroke="#2e201a" stroke-width="0.8"/>
<path d="M512.4,548.0C511.0,552.0 508.6,555.3 508.1,560.0C507.5,566.1 510.4,574.5 511.1,581.7C511.9,588.9 512.6,596.2 512.6,603.4C512.6,610.6 511.8,617.8 511.2,625.0C510.5,632.3 509.5,639.4 508.6,646.8C507.6,654.4 506.6,662.4 505.6,670.0C504.6,677.4 503.5,684.5 502.8,691.7C502.0,698.9 501.7,706.2 501.2,713.4C500.6,720.6 500.0,727.8 499.5,735.0C499.0,742.2 498.3,750.0 497.9,756.8C497.6,762.9 497.4,768.3 497.2,774.0" fill="none" stroke="#2a1d18" stroke-width="0.75" stroke-linecap="round"/>
<path d="M514.8,548.0C513.9,552.0 512.3,555.4 512.2,560.0C512.1,566.2 514.9,574.4 515.8,581.7C516.8,588.9 517.5,596.2 517.7,603.4C517.9,610.6 517.4,617.8 517.0,625.0C516.6,632.3 515.8,639.4 515.1,646.8C514.4,654.4 513.5,662.4 512.6,670.0C511.8,677.4 510.8,684.5 510.0,691.7C509.3,698.9 508.8,706.2 508.1,713.4C507.5,720.6 506.7,727.8 506.0,735.0C505.3,742.3 504.4,750.0 503.8,756.8C503.2,762.9 502.9,768.3 502.4,774.0" fill="none" stroke="#2a1d18" stroke-width="0.75" stroke-linecap="round"/>
<path d="M517.2,548.0C516.9,552.0 516.0,555.4 516.3,560.0C516.7,566.2 519.5,574.4 520.6,581.7C521.6,588.9 522.4,596.2 522.8,603.4C523.2,610.6 523.1,617.8 522.9,625.0C522.7,632.3 522.2,639.4 521.7,646.8C521.1,654.4 520.3,662.4 519.6,670.0C518.9,677.4 518.0,684.5 517.3,691.7C516.5,698.9 515.9,706.2 515.1,713.4C514.3,720.6 513.4,727.8 512.5,735.0C511.6,742.3 510.6,750.0 509.7,756.8C508.9,762.9 508.3,768.3 507.6,774.0" fill="none" stroke="#2a1d18" stroke-width="0.75" stroke-linecap="round"/>
<path d="M519.6,548.0C519.9,552.0 519.7,555.4 520.4,560.0C521.3,566.2 524.0,574.4 525.3,581.7C526.5,588.9 527.3,596.2 527.9,603.4C528.5,610.6 528.7,617.8 528.7,625.0C528.8,632.2 528.6,639.4 528.2,646.8C527.9,654.4 527.2,662.4 526.6,670.0C526.0,677.4 525.3,684.5 524.5,691.7C523.8,698.9 523.0,706.2 522.0,713.4C521.1,720.6 520.1,727.8 519.0,735.0C517.9,742.3 516.7,750.0 515.6,756.8C514.6,762.9 513.7,768.3 512.8,774.0" fill="none" stroke="#2a1d18" stroke-width="0.75" stroke-linecap="round"/>
<path d="M499.8,774.0C500.6,779.3 501.1,784.7 502.2,790.0C503.3,795.4 504.9,800.7 506.2,806.0" fill="none" stroke="#4a4660" stroke-width="0.6"/>
<path d="M507.6,774.0C507.5,779.3 507.4,784.7 507.4,790.0C507.3,795.3 507.4,800.7 507.4,806.0" fill="none" stroke="#4a4660" stroke-width="0.6"/>
<path d="M480.5,512.0C476.7,517.0 472.5,522.1 469.0,527.0C465.8,531.4 462.7,536.2 460.0,540.0C457.9,543.0 456.4,545.1 454.3,548.0C451.8,551.6 448.6,555.8 446.1,560.0C443.6,564.2 441.4,568.7 439.3,573.0C437.3,577.1 435.5,581.0 433.9,585.0C432.4,589.0 431.1,592.9 429.9,597.0C428.6,601.2 427.5,605.1 426.5,610.0C425.2,616.3 424.1,624.3 423.5,632.0C422.8,640.3 422.7,649.7 422.8,658.0C422.9,665.6 423.6,672.7 424.0,680.0C424.4,687.3 424.3,694.7 425.0,702.0C425.7,709.3 427.0,716.7 428.0,724.0C429.1,731.3 430.2,738.8 431.3,746.0C432.4,753.1 434.3,759.8 434.5,767.0C434.7,774.5 433.6,783.1 432.0,790.0C430.6,795.9 427.9,800.7 426.0,806.0C424.1,811.3 422.0,816.9 420.4,822.0C419.0,826.5 417.8,831.2 416.8,835.0C416.0,838.0 415.5,840.3 414.8,843.0" fill="none" stroke="#1c1a1a" stroke-width="1.45" stroke-linecap="round" stroke-linejoin="round"/>
<path d="M486.5,512.0C487.7,517.0 489.1,522.2 490.0,527.0C490.9,531.5 491.6,536.2 492.0,540.0C492.3,543.0 492.5,545.1 492.5,548.0C492.5,551.6 491.9,555.9 491.5,560.0C491.1,564.2 490.4,568.8 490.0,573.0C489.6,577.1 489.4,581.0 489.0,585.0C488.6,589.0 488.3,592.9 487.8,597.0C487.3,601.3 486.7,605.1 486.0,610.0C485.1,616.4 484.0,624.4 483.0,632.0C481.9,640.3 480.7,649.7 479.5,658.0C478.4,665.6 477.4,672.7 476.0,680.0C474.6,687.4 472.8,694.7 471.0,702.0C469.2,709.4 467.3,716.7 465.0,724.0C462.7,731.4 459.9,738.8 457.0,746.0C454.1,753.1 449.6,759.7 447.5,767.0C445.4,774.3 446.1,783.1 444.5,790.0C443.1,795.9 441.5,800.8 439.0,806.0C436.3,811.5 431.6,816.9 428.5,822.0C425.7,826.5 423.2,831.2 421.0,835.0C419.2,838.0 417.8,840.3 416.2,843.0" fill="none" stroke="#1c1a1a" stroke-width="1.45" stroke-linecap="round" stroke-linejoin="round"/>
<path d="M490.5,600.0C488.7,606.7 486.4,613.3 485.0,620.0C483.6,626.6 483.0,633.3 482.0,640.0C481.0,646.7 480.2,653.3 479.2,660.0C478.2,666.7 477.3,673.2 476.0,680.0C474.6,687.2 472.8,694.7 471.0,702.0C469.2,709.4 467.3,716.7 465.0,724.0C462.7,731.4 459.8,739.0 457.0,746.0C454.3,752.6 450.5,759.5 448.5,765.0C447.0,769.1 446.5,772.3 445.5,776.0" fill="none" stroke="#1c1a1a" stroke-width="0.9"/>
<path d="M497.7,600.0C497.0,606.7 496.3,613.3 495.5,620.0C494.7,626.7 493.8,633.3 493.0,640.0C492.2,646.7 491.4,653.3 490.5,660.0C489.6,666.7 488.8,673.2 487.5,680.0C486.1,687.2 484.1,694.7 482.5,702.0C480.9,709.3 479.7,716.7 478.0,724.0C476.3,731.4 474.7,739.0 472.5,746.0C470.4,752.6 467.4,759.6 465.0,765.0C463.1,769.2 461.6,772.6 459.5,776.0C457.5,779.2 455.2,782.0 453.0,785.0" fill="none" stroke="#1c1a1a" stroke-width="0.9"/>
<path d="M510.0,548.0C508.0,552.0 504.8,555.3 504.0,560.0C502.9,566.0 505.8,574.5 506.4,581.7C507.0,588.9 507.7,596.2 507.5,603.4C507.3,610.6 506.2,617.8 505.3,625.0C504.4,632.3 503.1,639.4 502.0,646.8C500.9,654.4 499.7,662.4 498.6,670.0C497.5,677.4 496.2,684.5 495.5,691.7C494.8,698.9 494.6,706.2 494.2,713.4C493.8,720.6 493.4,727.8 493.0,735.0C492.6,742.2 492.2,750.0 492.0,756.8C491.9,762.9 491.2,768.4 492.0,774.0C492.8,779.5 494.9,784.8 497.0,790.0C499.2,795.4 502.3,800.7 505.0,806.0" fill="none" stroke="#1c1a1a" stroke-width="1.45" stroke-linecap="round" stroke-linejoin="round"/>
<path d="M520.0,539.0C520.7,542.0 521.3,544.8 522.0,548.0C522.8,551.7 523.4,555.4 524.5,560.0C525.9,566.2 528.6,574.4 530.0,581.7C531.4,588.9 532.2,596.2 533.0,603.4C533.8,610.6 534.3,617.8 534.6,625.0C534.9,632.2 535.0,639.4 534.8,646.8C534.6,654.4 534.1,662.4 533.6,670.0C533.1,677.4 532.6,684.5 531.8,691.7C531.0,698.9 530.0,706.2 529.0,713.4C527.9,720.6 526.7,727.8 525.5,735.0C524.2,742.3 522.8,750.0 521.5,756.8C520.3,762.9 519.2,768.4 518.0,774.0C516.8,779.4 515.8,784.7 514.3,790.0C512.8,795.4 510.8,800.7 509.0,806.0" fill="none" stroke="#1c1a1a" stroke-width="1.45" stroke-linecap="round" stroke-linejoin="round"/>
<path d="M494.4,489 L497.5,497 M487,496.5 L489.5,502.5" fill="none" stroke="#1c1a1a" stroke-width="1.1"/>
<path d="M490.4,498.2 L493.1,504.7" fill="none" stroke="#5b6aa8" stroke-width="0.7"/>
<path d="M492.2,496.4 L494.9,502.9" fill="none" stroke="#5b6aa8" stroke-width="0.7"/>
<path d="M494.1,494.6 L496.8,501.1" fill="none" stroke="#5b6aa8" stroke-width="0.7"/>
<path d="M303.8,306.0C304.5,314.2 304.2,322.9 306.0,330.7C307.8,338.2 310.7,345.7 314.4,352.0C317.9,358.0 322.6,363.0 327.5,368.0C332.7,373.3 339.2,378.2 345.0,383.0C350.5,387.5 355.7,392.4 361.3,396.0C366.6,399.3 372.1,401.6 377.6,404.0C383.0,406.4 388.4,408.8 393.9,410.6C399.2,412.3 404.6,413.6 410.0,414.7C415.4,415.8 420.9,416.7 426.4,417.0C431.8,417.3 437.3,417.0 442.7,416.3C448.2,415.6 454.9,413.9 459.0,413.0C461.5,412.5 462.6,412.4 465.0,411.7C468.5,410.7 473.8,409.0 478.0,407.0C482.4,404.9 487.1,402.1 491.0,399.0C494.7,396.0 498.2,392.6 501.0,389.0C503.7,385.5 505.7,381.8 507.5,377.8C509.3,373.7 510.6,368.9 511.6,364.8C512.4,361.3 512.7,358.3 513.2,355.0L514.3,355.0C514.2,359.9 514.3,365.0 514.0,369.7C513.7,374.2 513.5,378.4 512.4,382.7C511.3,387.1 509.7,391.7 507.5,395.7C505.3,399.8 502.3,403.5 499.3,407.0C496.3,410.5 493.3,414.0 489.6,416.9C485.7,420.0 480.8,422.7 476.5,425.0C472.6,427.0 468.2,428.8 465.0,430.0C462.7,430.8 461.5,431.2 459.0,431.8C454.9,432.8 448.2,434.2 442.7,434.7C437.3,435.2 431.8,435.3 426.4,435.0C420.9,434.7 415.4,434.1 410.0,433.0C404.6,431.9 399.2,430.3 393.9,428.5C388.4,426.7 382.9,424.7 377.6,422.0C372.0,419.2 366.6,415.8 361.3,412.0C355.7,408.0 350.9,403.3 345.0,398.4C338.1,392.7 328.2,386.5 322.6,380.0C318.1,374.7 315.5,369.2 312.8,363.3C310.0,357.2 307.7,350.7 306.3,344.0C304.8,337.0 304.6,328.8 304.2,322.0C303.9,316.2 303.9,311.3 303.8,306.0Z" fill="url(#gSideL)"/>
<path d="M522.0,353.0C522.6,357.0 523.3,360.8 523.8,365.0C524.4,369.6 524.0,375.0 525.4,379.4C526.8,383.6 529.2,387.4 531.9,390.8C534.6,394.2 538.0,397.2 541.7,399.8C545.6,402.6 549.8,405.0 554.7,407.0C560.2,409.2 567.3,410.6 573.3,412.0C578.9,413.3 584.1,414.7 589.6,415.4C595.0,416.1 600.5,416.5 605.9,416.5C611.3,416.5 616.6,416.2 622.0,415.4C627.5,414.5 633.0,413.0 638.4,411.3C643.9,409.5 649.3,407.3 654.7,404.8C660.2,402.2 665.7,399.2 671.0,395.8C676.5,392.3 681.9,388.3 687.0,384.0C692.1,379.7 697.2,374.5 701.7,370.0C705.8,365.9 709.7,362.3 713.0,358.0C716.1,353.9 718.8,349.4 721.0,345.0C723.1,340.8 724.6,336.5 726.0,332.0C727.4,327.3 728.7,322.2 729.4,317.5C730.1,313.1 729.9,308.8 730.2,304.4L730.2,304.4C730.2,309.8 730.3,315.3 730.2,320.7C730.1,326.1 730.2,331.9 729.4,337.0C728.7,341.6 727.6,345.7 726.0,350.0C724.4,354.4 721.7,359.4 719.6,363.0C718.0,365.8 716.6,367.2 714.7,370.0C712.0,374.2 708.9,380.9 705.0,386.0C700.8,391.6 695.6,397.3 690.0,402.0C684.3,406.8 677.2,410.9 671.0,414.6C665.4,418.0 660.2,420.8 654.7,423.5C649.3,426.1 643.9,428.6 638.4,430.4C633.0,432.1 627.5,433.2 622.0,434.0C616.6,434.8 611.3,435.2 605.9,435.2C600.5,435.2 595.0,434.7 589.6,434.0C584.1,433.3 578.7,432.3 573.3,430.8C567.8,429.3 562.3,427.3 557.0,425.0C551.7,422.7 546.1,420.1 541.7,417.0C537.9,414.3 534.6,411.6 531.9,408.0C529.1,404.3 526.9,400.1 525.4,395.0C523.4,388.6 523.2,379.1 522.5,372.0C521.9,365.9 521.8,360.7 521.5,355.0Z" fill="url(#gSideR)"/>
<path d="M303.8,306.0C303.9,311.3 303.9,316.2 304.2,322.0C304.6,328.8 304.8,337.0 306.3,344.0C307.7,350.7 310.0,357.2 312.8,363.3C315.5,369.2 318.1,374.7 322.6,380.0C328.2,386.5 338.1,392.7 345.0,398.4C350.9,403.3 355.7,408.0 361.3,412.0C366.6,415.8 372.0,419.2 377.6,422.0C382.9,424.7 388.4,426.7 393.9,428.5C399.2,430.3 404.6,431.9 410.0,433.0C415.4,434.1 420.9,434.7 426.4,435.0C431.8,435.3 437.3,435.2 442.7,434.7C448.2,434.2 454.9,432.8 459.0,431.8C461.5,431.2 462.7,430.8 465.0,430.0C468.2,428.8 472.6,427.0 476.5,425.0C480.8,422.7 485.7,420.0 489.6,416.9C493.3,414.0 496.3,410.5 499.3,407.0C502.3,403.5 505.3,399.8 507.5,395.7C509.7,391.7 511.3,387.1 512.4,382.7C513.5,378.4 513.7,374.2 514.0,369.7C514.3,365.0 514.2,359.9 514.3,355.0" fill="none" stroke="#1c1a1a" stroke-width="0.9"/>
<path d="M521.5,355.0C521.8,360.7 521.9,365.9 522.5,372.0C523.2,379.1 523.4,388.6 525.4,395.0C526.9,400.1 529.1,404.3 531.9,408.0C534.6,411.6 537.9,414.3 541.7,417.0C546.1,420.1 551.7,422.7 557.0,425.0C562.3,427.3 567.8,429.3 573.3,430.8C578.7,432.3 584.1,433.3 589.6,434.0C595.0,434.7 600.5,435.2 605.9,435.2C611.3,435.2 616.6,434.8 622.0,434.0C627.5,433.2 633.0,432.1 638.4,430.4C643.9,428.6 649.3,426.1 654.7,423.5C660.2,420.8 665.4,418.0 671.0,414.6C677.2,410.9 684.3,406.8 690.0,402.0C695.6,397.3 700.8,391.6 705.0,386.0C708.9,380.9 712.0,374.2 714.7,370.0C716.6,367.2 718.0,365.8 719.6,363.0C721.7,359.4 724.4,354.4 726.0,350.0C727.6,345.7 728.7,341.6 729.4,337.0C730.2,331.9 730.1,326.1 730.2,320.7C730.3,315.3 730.2,309.8 730.2,304.4" fill="none" stroke="#1c1a1a" stroke-width="0.9"/>
<path d="M517.3,222.0C517.3,213.0 517.2,203.8 517.2,195.0C517.2,186.5 517.3,176.7 517.1,170.0C517.0,165.5 516.8,162.5 516.6,158.7C516.3,154.8 516.1,150.7 515.6,147.0C515.2,143.7 514.7,140.4 514.0,137.6C513.4,135.2 512.9,133.0 511.6,131.0C510.2,128.8 508.3,126.6 505.9,125.0C503.2,123.2 499.4,121.9 496.0,121.0C492.7,120.1 489.2,119.7 486.0,119.7C483.2,119.7 480.8,119.9 478.0,120.5C474.5,121.3 470.2,123.1 466.8,124.5C463.9,125.7 460.7,127.0 459.0,128.3C458.0,129.0 457.9,130.2 457.0,130.5C455.9,130.9 454.3,129.3 452.4,129.4C449.4,129.5 444.6,131.5 441.0,133.0C437.6,134.4 434.5,136.3 431.2,137.9C427.9,139.5 425.0,141.4 421.4,142.8C417.4,144.4 412.6,145.4 408.4,146.9C404.4,148.4 400.3,149.7 397.0,151.8C393.9,153.8 391.4,156.4 388.9,159.0C386.5,161.6 384.8,164.5 382.3,167.2C379.5,170.2 376.3,173.1 372.6,176.2C368.0,180.1 361.3,184.3 356.3,188.4C351.7,192.2 347.9,196.6 343.7,200.0C339.9,203.1 335.8,205.0 332.3,208.0C328.8,211.0 325.3,214.4 322.6,218.0C319.9,221.5 317.7,225.6 316.0,229.3C314.5,232.6 313.7,235.4 312.8,239.0C311.7,243.4 311.2,248.7 310.4,253.7C309.6,259.0 308.7,264.3 307.9,270.0C307.0,276.3 306.2,284.5 305.5,290.0C305.0,293.9 304.3,297.1 304.0,300.0C303.8,302.2 303.7,303.3 303.8,306.0C304.0,311.4 304.2,322.9 306.0,330.7C307.8,338.2 310.7,345.7 314.4,352.0C317.9,358.0 322.6,363.0 327.5,368.0C332.7,373.3 339.2,378.2 345.0,383.0C350.5,387.5 355.7,392.4 361.3,396.0C366.6,399.3 372.1,401.6 377.6,404.0C383.0,406.4 388.4,408.8 393.9,410.6C399.2,412.3 404.6,413.6 410.0,414.7C415.4,415.8 420.9,416.7 426.4,417.0C431.8,417.3 437.3,417.0 442.7,416.3C448.2,415.6 454.9,413.9 459.0,413.0C461.5,412.5 462.6,412.4 465.0,411.7C468.5,410.7 473.8,409.0 478.0,407.0C482.4,404.9 487.1,402.1 491.0,399.0C494.7,396.0 498.2,392.6 501.0,389.0C503.7,385.5 505.7,381.8 507.5,377.8C509.3,373.7 510.6,368.9 511.6,364.8C512.4,361.3 512.8,359.2 513.2,355.0C513.9,347.6 513.7,333.2 514.0,324.0C514.2,316.6 514.6,310.1 514.8,304.0C515.0,298.9 514.5,293.7 515.2,290.0C515.7,287.5 516.6,286.0 517.3,284.0L517.3,284.0C518.1,286.0 519.1,287.5 519.6,290.0C520.4,293.6 520.1,298.9 520.2,304.0C520.4,310.1 520.3,317.7 520.5,324.0C520.7,329.6 521.0,334.9 521.3,340.0C521.5,344.6 521.6,348.8 522.0,353.0C522.4,357.1 523.3,360.8 523.8,365.0C524.4,369.6 524.0,375.0 525.4,379.4C526.8,383.6 529.2,387.4 531.9,390.8C534.6,394.2 538.0,397.2 541.7,399.8C545.6,402.6 549.8,405.0 554.7,407.0C560.2,409.2 567.3,410.6 573.3,412.0C578.9,413.3 584.1,414.7 589.6,415.4C595.0,416.1 600.5,416.5 605.9,416.5C611.3,416.5 616.6,416.2 622.0,415.4C627.5,414.5 633.0,413.0 638.4,411.3C643.9,409.5 649.3,407.3 654.7,404.8C660.2,402.2 665.7,399.2 671.0,395.8C676.5,392.3 681.9,388.3 687.0,384.0C692.1,379.7 697.2,374.5 701.7,370.0C705.8,365.9 709.7,362.3 713.0,358.0C716.1,353.9 718.8,349.4 721.0,345.0C723.1,340.8 724.6,336.5 726.0,332.0C727.4,327.3 728.7,322.2 729.4,317.5C730.1,313.1 730.2,308.6 730.2,304.4C730.2,300.5 729.9,296.9 729.4,293.0C728.9,288.8 727.8,284.9 727.0,280.0C725.9,273.7 724.8,264.9 723.7,258.4C722.8,253.0 721.9,248.3 721.0,243.7C720.2,239.6 719.9,235.6 718.8,232.0C717.8,228.6 716.3,225.4 714.7,222.6C713.3,220.1 711.7,218.2 709.8,216.0C707.5,213.4 704.8,210.7 701.7,208.0C698.0,204.7 692.9,201.0 688.7,198.0C684.9,195.3 681.0,193.2 677.5,190.7C674.1,188.3 671.0,185.9 668.0,183.3C665.1,180.7 662.5,177.8 659.8,175.0C657.1,172.1 654.3,168.9 651.7,166.2C649.4,163.8 647.5,161.9 645.2,159.7C642.7,157.3 639.8,154.4 637.0,152.3C634.4,150.4 631.8,148.8 628.9,147.5C625.8,146.2 622.3,145.5 619.0,144.5C615.8,143.6 612.5,143.0 609.3,141.8C606.0,140.5 603.0,138.6 599.6,136.9C596.0,135.1 592.0,132.3 588.2,131.2C584.9,130.2 580.9,129.6 578.4,130.0C576.7,130.3 575.3,132.2 574.3,132.0C573.6,131.9 573.4,131.0 572.7,130.4C571.4,129.3 568.8,127.3 567.0,126.3C565.6,125.5 564.5,125.2 562.9,124.5C560.6,123.4 557.6,121.4 554.7,120.5C551.7,119.6 548.2,119.2 545.0,119.3C541.7,119.4 538.1,120.4 535.0,121.3C532.1,122.1 529.2,123.0 527.0,124.5C525.0,125.8 523.2,127.5 522.0,129.4C520.8,131.3 520.3,133.6 519.7,136.0C519.0,138.9 518.9,142.2 518.6,145.7C518.2,149.7 517.9,154.5 517.7,158.7C517.5,162.6 517.4,165.5 517.3,170.0C517.2,176.7 517.3,186.5 517.3,195.0C517.3,203.8 517.3,213.0 517.3,222.0Z" fill="#dadcf1"/>
<clipPath id="cCord"><path d="M517.3,222.0C517.3,213.0 517.2,203.8 517.2,195.0C517.2,186.5 517.3,176.7 517.1,170.0C517.0,165.5 516.8,162.5 516.6,158.7C516.3,154.8 516.1,150.7 515.6,147.0C515.2,143.7 514.7,140.4 514.0,137.6C513.4,135.2 512.9,133.0 511.6,131.0C510.2,128.8 508.3,126.6 505.9,125.0C503.2,123.2 499.4,121.9 496.0,121.0C492.7,120.1 489.2,119.7 486.0,119.7C483.2,119.7 480.8,119.9 478.0,120.5C474.5,121.3 470.2,123.1 466.8,124.5C463.9,125.7 460.7,127.0 459.0,128.3C458.0,129.0 457.9,130.2 457.0,130.5C455.9,130.9 454.3,129.3 452.4,129.4C449.4,129.5 444.6,131.5 441.0,133.0C437.6,134.4 434.5,136.3 431.2,137.9C427.9,139.5 425.0,141.4 421.4,142.8C417.4,144.4 412.6,145.4 408.4,146.9C404.4,148.4 400.3,149.7 397.0,151.8C393.9,153.8 391.4,156.4 388.9,159.0C386.5,161.6 384.8,164.5 382.3,167.2C379.5,170.2 376.3,173.1 372.6,176.2C368.0,180.1 361.3,184.3 356.3,188.4C351.7,192.2 347.9,196.6 343.7,200.0C339.9,203.1 335.8,205.0 332.3,208.0C328.8,211.0 325.3,214.4 322.6,218.0C319.9,221.5 317.7,225.6 316.0,229.3C314.5,232.6 313.7,235.4 312.8,239.0C311.7,243.4 311.2,248.7 310.4,253.7C309.6,259.0 308.7,264.3 307.9,270.0C307.0,276.3 306.2,284.5 305.5,290.0C305.0,293.9 304.3,297.1 304.0,300.0C303.8,302.2 303.7,303.3 303.8,306.0C304.0,311.4 304.2,322.9 306.0,330.7C307.8,338.2 310.7,345.7 314.4,352.0C317.9,358.0 322.6,363.0 327.5,368.0C332.7,373.3 339.2,378.2 345.0,383.0C350.5,387.5 355.7,392.4 361.3,396.0C366.6,399.3 372.1,401.6 377.6,404.0C383.0,406.4 388.4,408.8 393.9,410.6C399.2,412.3 404.6,413.6 410.0,414.7C415.4,415.8 420.9,416.7 426.4,417.0C431.8,417.3 437.3,417.0 442.7,416.3C448.2,415.6 454.9,413.9 459.0,413.0C461.5,412.5 462.6,412.4 465.0,411.7C468.5,410.7 473.8,409.0 478.0,407.0C482.4,404.9 487.1,402.1 491.0,399.0C494.7,396.0 498.2,392.6 501.0,389.0C503.7,385.5 505.7,381.8 507.5,377.8C509.3,373.7 510.6,368.9 511.6,364.8C512.4,361.3 512.8,359.2 513.2,355.0C513.9,347.6 513.7,333.2 514.0,324.0C514.2,316.6 514.6,310.1 514.8,304.0C515.0,298.9 514.5,293.7 515.2,290.0C515.7,287.5 516.6,286.0 517.3,284.0L517.3,284.0C518.1,286.0 519.1,287.5 519.6,290.0C520.4,293.6 520.1,298.9 520.2,304.0C520.4,310.1 520.3,317.7 520.5,324.0C520.7,329.6 521.0,334.9 521.3,340.0C521.5,344.6 521.6,348.8 522.0,353.0C522.4,357.1 523.3,360.8 523.8,365.0C524.4,369.6 524.0,375.0 525.4,379.4C526.8,383.6 529.2,387.4 531.9,390.8C534.6,394.2 538.0,397.2 541.7,399.8C545.6,402.6 549.8,405.0 554.7,407.0C560.2,409.2 567.3,410.6 573.3,412.0C578.9,413.3 584.1,414.7 589.6,415.4C595.0,416.1 600.5,416.5 605.9,416.5C611.3,416.5 616.6,416.2 622.0,415.4C627.5,414.5 633.0,413.0 638.4,411.3C643.9,409.5 649.3,407.3 654.7,404.8C660.2,402.2 665.7,399.2 671.0,395.8C676.5,392.3 681.9,388.3 687.0,384.0C692.1,379.7 697.2,374.5 701.7,370.0C705.8,365.9 709.7,362.3 713.0,358.0C716.1,353.9 718.8,349.4 721.0,345.0C723.1,340.8 724.6,336.5 726.0,332.0C727.4,327.3 728.7,322.2 729.4,317.5C730.1,313.1 730.2,308.6 730.2,304.4C730.2,300.5 729.9,296.9 729.4,293.0C728.9,288.8 727.8,284.9 727.0,280.0C725.9,273.7 724.8,264.9 723.7,258.4C722.8,253.0 721.9,248.3 721.0,243.7C720.2,239.6 719.9,235.6 718.8,232.0C717.8,228.6 716.3,225.4 714.7,222.6C713.3,220.1 711.7,218.2 709.8,216.0C707.5,213.4 704.8,210.7 701.7,208.0C698.0,204.7 692.9,201.0 688.7,198.0C684.9,195.3 681.0,193.2 677.5,190.7C674.1,188.3 671.0,185.9 668.0,183.3C665.1,180.7 662.5,177.8 659.8,175.0C657.1,172.1 654.3,168.9 651.7,166.2C649.4,163.8 647.5,161.9 645.2,159.7C642.7,157.3 639.8,154.4 637.0,152.3C634.4,150.4 631.8,148.8 628.9,147.5C625.8,146.2 622.3,145.5 619.0,144.5C615.8,143.6 612.5,143.0 609.3,141.8C606.0,140.5 603.0,138.6 599.6,136.9C596.0,135.1 592.0,132.3 588.2,131.2C584.9,130.2 580.9,129.6 578.4,130.0C576.7,130.3 575.3,132.2 574.3,132.0C573.6,131.9 573.4,131.0 572.7,130.4C571.4,129.3 568.8,127.3 567.0,126.3C565.6,125.5 564.5,125.2 562.9,124.5C560.6,123.4 557.6,121.4 554.7,120.5C551.7,119.6 548.2,119.2 545.0,119.3C541.7,119.4 538.1,120.4 535.0,121.3C532.1,122.1 529.2,123.0 527.0,124.5C525.0,125.8 523.2,127.5 522.0,129.4C520.8,131.3 520.3,133.6 519.7,136.0C519.0,138.9 518.9,142.2 518.6,145.7C518.2,149.7 517.9,154.5 517.7,158.7C517.5,162.6 517.4,165.5 517.3,170.0C517.2,176.7 517.3,186.5 517.3,195.0C517.3,203.8 517.3,213.0 517.3,222.0Z"/></clipPath>
<clipPath id="cGM"><path d="M382.3,167.2C384.6,166.8 386.8,169.2 388.9,170.5C391.1,171.9 392.9,173.9 395.4,175.4C398.2,177.2 401.9,179.1 405.0,180.3C407.8,181.4 410.3,182.3 413.3,182.7C416.8,183.2 420.8,182.7 424.7,182.7C428.9,182.7 433.7,182.4 437.7,182.7C441.2,183.0 444.5,183.3 447.5,184.3C450.4,185.2 453.1,186.8 455.6,188.4C458.1,190.0 460.3,191.4 462.4,194.0C465.2,197.4 467.7,203.1 470.0,208.0C472.4,213.1 474.2,219.1 476.5,224.0C478.5,228.3 480.6,232.5 483.0,235.7C485.0,238.3 487.0,240.3 489.6,242.0C492.3,243.8 496.1,245.5 499.0,246.0C501.4,246.4 503.9,246.2 505.9,245.5C507.8,244.8 509.0,242.9 510.7,242.0C512.5,241.0 514.5,240.0 516.4,239.8C518.3,239.7 520.3,240.2 522.0,241.0C523.8,241.8 525.1,243.9 527.0,244.7C528.9,245.6 531.2,246.1 533.5,246.0C536.1,245.9 539.1,245.0 541.7,243.9C544.5,242.7 547.5,241.4 549.8,239.0C552.5,236.2 554.4,231.8 556.4,227.6C558.8,222.7 560.7,216.3 562.9,211.0C565.0,206.0 567.0,200.2 569.4,196.5C571.2,193.7 573.1,191.9 575.0,190.0C576.7,188.3 578.0,186.9 580.0,185.7C582.3,184.3 585.0,183.2 588.0,182.5C591.5,181.7 595.6,181.7 599.6,181.7C603.8,181.7 608.4,182.5 612.6,182.5C616.5,182.5 620.8,182.6 624.0,181.7C626.6,181.0 628.5,179.6 630.5,178.4C632.3,177.3 633.5,176.2 635.4,175.0C637.7,173.5 640.7,171.5 643.5,170.0C646.2,168.6 648.9,165.6 651.7,166.2C655.8,167.1 665.2,177.6 664.7,180.8C664.4,182.9 660.2,183.5 658.0,185.0C655.8,186.5 653.8,188.0 651.7,189.8C649.4,191.7 647.0,194.9 645.0,196.3C643.7,197.2 642.8,197.0 641.4,198.0C638.8,199.9 634.7,204.6 631.7,208.0C628.8,211.2 625.4,214.5 623.5,217.7C621.9,220.4 620.8,222.8 620.3,225.8C619.8,229.2 620.4,233.0 621.0,237.0C621.7,241.7 622.8,247.9 624.3,252.0C625.4,255.2 626.6,257.3 628.4,260.0C630.5,263.2 633.1,267.1 636.5,269.8C640.1,272.7 645.7,274.8 649.6,276.3C652.6,277.5 654.6,277.8 657.7,278.7C661.9,279.8 668.1,280.9 672.4,282.4C676.0,283.6 679.5,284.6 682.0,286.5C684.2,288.2 686.0,290.6 687.0,293.0C688.0,295.4 688.1,298.4 687.8,301.0C687.5,303.7 686.6,306.5 685.4,309.0C684.2,311.5 682.4,313.8 680.5,315.8C678.6,317.7 675.9,318.7 674.0,320.7C672.0,322.9 671.0,326.4 669.0,328.8C667.1,331.0 665.1,333.1 662.6,334.6C659.8,336.2 655.4,336.4 652.8,337.8C650.8,338.9 648.6,340.2 648.0,341.9C647.4,343.7 649.0,346.1 649.6,348.4C650.3,351.0 651.8,354.0 652.0,356.5C652.2,358.5 651.9,360.3 651.5,362.0C651.1,363.6 650.9,365.0 649.8,366.5C648.2,368.8 644.9,372.1 641.7,373.8C638.4,375.6 634.1,376.7 630.3,377.0C626.5,377.3 622.4,376.9 618.9,375.5C615.3,374.0 611.8,370.7 609.0,368.0C606.5,365.5 604.6,362.9 602.6,360.0C600.4,356.9 599.3,353.5 596.5,350.0C592.5,345.1 585.4,339.4 580.0,334.0C574.6,328.7 567.7,324.1 564.0,318.0C560.5,312.2 561.0,303.8 558.0,298.6C555.4,294.2 551.9,290.4 548.0,288.0C544.2,285.6 539.1,284.8 535.0,284.0C531.5,283.3 528.1,283.2 525.0,283.0C522.3,282.9 520.0,282.9 517.3,283.0C514.3,283.2 511.4,283.6 508.0,284.0C504.0,284.5 499.0,285.3 495.0,286.0C491.4,286.6 487.6,286.5 485.0,288.0C482.8,289.3 481.4,291.4 480.0,293.6C478.3,296.2 477.1,299.7 476.0,303.0C474.8,306.5 474.7,310.4 473.2,314.0C471.6,318.0 469.0,322.5 466.4,326.0C464.0,329.2 461.1,331.8 458.3,334.3C455.6,336.7 452.5,338.4 450.0,341.0C447.4,343.8 445.6,347.4 443.3,350.6C441.0,353.8 438.7,356.9 436.0,360.0C433.0,363.4 430.0,367.1 426.0,370.0C421.5,373.2 415.3,377.4 410.0,378.0C405.3,378.6 399.8,376.6 395.9,374.7C392.6,373.1 389.9,370.7 387.7,368.0C385.5,365.2 383.9,361.4 382.8,358.0C381.7,354.7 381.5,351.3 381.0,348.0C380.6,344.9 381.4,341.6 380.0,339.0C378.4,336.1 374.2,334.5 371.4,332.0C368.5,329.5 365.8,326.4 363.0,324.0C360.4,321.7 357.5,320.4 355.0,317.7C352.1,314.6 348.5,310.0 347.0,306.0C345.7,302.4 345.3,298.2 346.0,295.0C346.6,292.3 348.4,290.0 350.0,288.0C351.5,286.1 353.0,284.3 355.0,283.0C357.3,281.5 360.3,280.5 363.3,279.8C366.7,279.0 371.1,279.6 374.7,279.0C378.1,278.4 381.7,277.8 384.5,276.5C387.0,275.3 388.6,273.1 391.0,271.7C393.7,270.2 397.0,269.5 400.0,268.0C403.3,266.3 407.5,264.9 410.0,262.0C412.6,259.0 414.4,253.9 415.0,250.0C415.5,246.6 414.8,243.4 414.0,240.0C413.2,236.4 411.7,233.0 410.0,229.0C408.0,224.1 405.2,218.0 402.4,213.0C399.8,208.4 397.1,202.3 394.0,200.0C391.9,198.5 389.4,199.6 387.2,198.2C384.3,196.3 381.6,191.8 379.0,188.4C376.4,185.0 371.5,181.2 371.8,177.8C372.1,174.1 379.0,167.7 382.3,167.2Z"/></clipPath>
<g clip-path="url(#cCord)">
<path d="M382.3,167.2C384.6,166.8 386.8,169.2 388.9,170.5C391.1,171.9 392.9,173.9 395.4,175.4C398.2,177.2 401.9,179.1 405.0,180.3C407.8,181.4 410.3,182.3 413.3,182.7C416.8,183.2 420.8,182.7 424.7,182.7C428.9,182.7 433.7,182.4 437.7,182.7C441.2,183.0 444.5,183.3 447.5,184.3C450.4,185.2 453.1,186.8 455.6,188.4C458.1,190.0 460.3,191.4 462.4,194.0C465.2,197.4 467.7,203.1 470.0,208.0C472.4,213.1 474.2,219.1 476.5,224.0C478.5,228.3 480.6,232.5 483.0,235.7C485.0,238.3 487.0,240.3 489.6,242.0C492.3,243.8 496.1,245.5 499.0,246.0C501.4,246.4 503.9,246.2 505.9,245.5C507.8,244.8 509.0,242.9 510.7,242.0C512.5,241.0 514.5,240.0 516.4,239.8C518.3,239.7 520.3,240.2 522.0,241.0C523.8,241.8 525.1,243.9 527.0,244.7C528.9,245.6 531.2,246.1 533.5,246.0C536.1,245.9 539.1,245.0 541.7,243.9C544.5,242.7 547.5,241.4 549.8,239.0C552.5,236.2 554.4,231.8 556.4,227.6C558.8,222.7 560.7,216.3 562.9,211.0C565.0,206.0 567.0,200.2 569.4,196.5C571.2,193.7 573.1,191.9 575.0,190.0C576.7,188.3 578.0,186.9 580.0,185.7C582.3,184.3 585.0,183.2 588.0,182.5C591.5,181.7 595.6,181.7 599.6,181.7C603.8,181.7 608.4,182.5 612.6,182.5C616.5,182.5 620.8,182.6 624.0,181.7C626.6,181.0 628.5,179.6 630.5,178.4C632.3,177.3 633.5,176.2 635.4,175.0C637.7,173.5 640.7,171.5 643.5,170.0C646.2,168.6 648.9,165.6 651.7,166.2C655.8,167.1 665.2,177.6 664.7,180.8C664.4,182.9 660.2,183.5 658.0,185.0C655.8,186.5 653.8,188.0 651.7,189.8C649.4,191.7 647.0,194.9 645.0,196.3C643.7,197.2 642.8,197.0 641.4,198.0C638.8,199.9 634.7,204.6 631.7,208.0C628.8,211.2 625.4,214.5 623.5,217.7C621.9,220.4 620.8,222.8 620.3,225.8C619.8,229.2 620.4,233.0 621.0,237.0C621.7,241.7 622.8,247.9 624.3,252.0C625.4,255.2 626.6,257.3 628.4,260.0C630.5,263.2 633.1,267.1 636.5,269.8C640.1,272.7 645.7,274.8 649.6,276.3C652.6,277.5 654.6,277.8 657.7,278.7C661.9,279.8 668.1,280.9 672.4,282.4C676.0,283.6 679.5,284.6 682.0,286.5C684.2,288.2 686.0,290.6 687.0,293.0C688.0,295.4 688.1,298.4 687.8,301.0C687.5,303.7 686.6,306.5 685.4,309.0C684.2,311.5 682.4,313.8 680.5,315.8C678.6,317.7 675.9,318.7 674.0,320.7C672.0,322.9 671.0,326.4 669.0,328.8C667.1,331.0 665.1,333.1 662.6,334.6C659.8,336.2 655.4,336.4 652.8,337.8C650.8,338.9 648.6,340.2 648.0,341.9C647.4,343.7 649.0,346.1 649.6,348.4C650.3,351.0 651.8,354.0 652.0,356.5C652.2,358.5 651.9,360.3 651.5,362.0C651.1,363.6 650.9,365.0 649.8,366.5C648.2,368.8 644.9,372.1 641.7,373.8C638.4,375.6 634.1,376.7 630.3,377.0C626.5,377.3 622.4,376.9 618.9,375.5C615.3,374.0 611.8,370.7 609.0,368.0C606.5,365.5 604.6,362.9 602.6,360.0C600.4,356.9 599.3,353.5 596.5,350.0C592.5,345.1 585.4,339.4 580.0,334.0C574.6,328.7 567.7,324.1 564.0,318.0C560.5,312.2 561.0,303.8 558.0,298.6C555.4,294.2 551.9,290.4 548.0,288.0C544.2,285.6 539.1,284.8 535.0,284.0C531.5,283.3 528.1,283.2 525.0,283.0C522.3,282.9 520.0,282.9 517.3,283.0C514.3,283.2 511.4,283.6 508.0,284.0C504.0,284.5 499.0,285.3 495.0,286.0C491.4,286.6 487.6,286.5 485.0,288.0C482.8,289.3 481.4,291.4 480.0,293.6C478.3,296.2 477.1,299.7 476.0,303.0C474.8,306.5 474.7,310.4 473.2,314.0C471.6,318.0 469.0,322.5 466.4,326.0C464.0,329.2 461.1,331.8 458.3,334.3C455.6,336.7 452.5,338.4 450.0,341.0C447.4,343.8 445.6,347.4 443.3,350.6C441.0,353.8 438.7,356.9 436.0,360.0C433.0,363.4 430.0,367.1 426.0,370.0C421.5,373.2 415.3,377.4 410.0,378.0C405.3,378.6 399.8,376.6 395.9,374.7C392.6,373.1 389.9,370.7 387.7,368.0C385.5,365.2 383.9,361.4 382.8,358.0C381.7,354.7 381.5,351.3 381.0,348.0C380.6,344.9 381.4,341.6 380.0,339.0C378.4,336.1 374.2,334.5 371.4,332.0C368.5,329.5 365.8,326.4 363.0,324.0C360.4,321.7 357.5,320.4 355.0,317.7C352.1,314.6 348.5,310.0 347.0,306.0C345.7,302.4 345.3,298.2 346.0,295.0C346.6,292.3 348.4,290.0 350.0,288.0C351.5,286.1 353.0,284.3 355.0,283.0C357.3,281.5 360.3,280.5 363.3,279.8C366.7,279.0 371.1,279.6 374.7,279.0C378.1,278.4 381.7,277.8 384.5,276.5C387.0,275.3 388.6,273.1 391.0,271.7C393.7,270.2 397.0,269.5 400.0,268.0C403.3,266.3 407.5,264.9 410.0,262.0C412.6,259.0 414.4,253.9 415.0,250.0C415.5,246.6 414.8,243.4 414.0,240.0C413.2,236.4 411.7,233.0 410.0,229.0C408.0,224.1 405.2,218.0 402.4,213.0C399.8,208.4 397.1,202.3 394.0,200.0C391.9,198.5 389.4,199.6 387.2,198.2C384.3,196.3 381.6,191.8 379.0,188.4C376.4,185.0 371.5,181.2 371.8,177.8C372.1,174.1 379.0,167.7 382.3,167.2Z" fill="#8e8fc4" stroke="#8e8fc4" stroke-width="1" filter="url(#b1)"/>
<g clip-path="url(#cGM)">
<path d="M382.3,167.2C384.6,166.8 386.8,169.2 388.9,170.5C391.1,171.9 392.9,173.9 395.4,175.4C398.2,177.2 401.9,179.1 405.0,180.3C407.8,181.4 410.3,182.3 413.3,182.7C416.8,183.2 420.8,182.7 424.7,182.7C428.9,182.7 433.7,182.4 437.7,182.7C441.2,183.0 444.5,183.3 447.5,184.3C450.4,185.2 453.1,186.8 455.6,188.4C458.1,190.0 460.3,191.4 462.4,194.0C465.2,197.4 467.7,203.1 470.0,208.0C472.4,213.1 474.2,219.1 476.5,224.0C478.5,228.3 480.6,232.5 483.0,235.7C485.0,238.3 487.0,240.3 489.6,242.0C492.3,243.8 496.1,245.5 499.0,246.0C501.4,246.4 503.9,246.2 505.9,245.5C507.8,244.8 509.0,242.9 510.7,242.0C512.5,241.0 514.5,240.0 516.4,239.8C518.3,239.7 520.3,240.2 522.0,241.0C523.8,241.8 525.1,243.9 527.0,244.7C528.9,245.6 531.2,246.1 533.5,246.0C536.1,245.9 539.1,245.0 541.7,243.9C544.5,242.7 547.5,241.4 549.8,239.0C552.5,236.2 554.4,231.8 556.4,227.6C558.8,222.7 560.7,216.3 562.9,211.0C565.0,206.0 567.0,200.2 569.4,196.5C571.2,193.7 573.1,191.9 575.0,190.0C576.7,188.3 578.0,186.9 580.0,185.7C582.3,184.3 585.0,183.2 588.0,182.5C591.5,181.7 595.6,181.7 599.6,181.7C603.8,181.7 608.4,182.5 612.6,182.5C616.5,182.5 620.8,182.6 624.0,181.7C626.6,181.0 628.5,179.6 630.5,178.4C632.3,177.3 633.5,176.2 635.4,175.0C637.7,173.5 640.7,171.5 643.5,170.0C646.2,168.6 648.9,165.6 651.7,166.2C655.8,167.1 665.2,177.6 664.7,180.8C664.4,182.9 660.2,183.5 658.0,185.0C655.8,186.5 653.8,188.0 651.7,189.8C649.4,191.7 647.0,194.9 645.0,196.3C643.7,197.2 642.8,197.0 641.4,198.0C638.8,199.9 634.7,204.6 631.7,208.0C628.8,211.2 625.4,214.5 623.5,217.7C621.9,220.4 620.8,222.8 620.3,225.8C619.8,229.2 620.4,233.0 621.0,237.0C621.7,241.7 622.8,247.9 624.3,252.0C625.4,255.2 626.6,257.3 628.4,260.0C630.5,263.2 633.1,267.1 636.5,269.8C640.1,272.7 645.7,274.8 649.6,276.3C652.6,277.5 654.6,277.8 657.7,278.7C661.9,279.8 668.1,280.9 672.4,282.4C676.0,283.6 679.5,284.6 682.0,286.5C684.2,288.2 686.0,290.6 687.0,293.0C688.0,295.4 688.1,298.4 687.8,301.0C687.5,303.7 686.6,306.5 685.4,309.0C684.2,311.5 682.4,313.8 680.5,315.8C678.6,317.7 675.9,318.7 674.0,320.7C672.0,322.9 671.0,326.4 669.0,328.8C667.1,331.0 665.1,333.1 662.6,334.6C659.8,336.2 655.4,336.4 652.8,337.8C650.8,338.9 648.6,340.2 648.0,341.9C647.4,343.7 649.0,346.1 649.6,348.4C650.3,351.0 651.8,354.0 652.0,356.5C652.2,358.5 651.9,360.3 651.5,362.0C651.1,363.6 650.9,365.0 649.8,366.5C648.2,368.8 644.9,372.1 641.7,373.8C638.4,375.6 634.1,376.7 630.3,377.0C626.5,377.3 622.4,376.9 618.9,375.5C615.3,374.0 611.8,370.7 609.0,368.0C606.5,365.5 604.6,362.9 602.6,360.0C600.4,356.9 599.3,353.5 596.5,350.0C592.5,345.1 585.4,339.4 580.0,334.0C574.6,328.7 567.7,324.1 564.0,318.0C560.5,312.2 561.0,303.8 558.0,298.6C555.4,294.2 551.9,290.4 548.0,288.0C544.2,285.6 539.1,284.8 535.0,284.0C531.5,283.3 528.1,283.2 525.0,283.0C522.3,282.9 520.0,282.9 517.3,283.0C514.3,283.2 511.4,283.6 508.0,284.0C504.0,284.5 499.0,285.3 495.0,286.0C491.4,286.6 487.6,286.5 485.0,288.0C482.8,289.3 481.4,291.4 480.0,293.6C478.3,296.2 477.1,299.7 476.0,303.0C474.8,306.5 474.7,310.4 473.2,314.0C471.6,318.0 469.0,322.5 466.4,326.0C464.0,329.2 461.1,331.8 458.3,334.3C455.6,336.7 452.5,338.4 450.0,341.0C447.4,343.8 445.6,347.4 443.3,350.6C441.0,353.8 438.7,356.9 436.0,360.0C433.0,363.4 430.0,367.1 426.0,370.0C421.5,373.2 415.3,377.4 410.0,378.0C405.3,378.6 399.8,376.6 395.9,374.7C392.6,373.1 389.9,370.7 387.7,368.0C385.5,365.2 383.9,361.4 382.8,358.0C381.7,354.7 381.5,351.3 381.0,348.0C380.6,344.9 381.4,341.6 380.0,339.0C378.4,336.1 374.2,334.5 371.4,332.0C368.5,329.5 365.8,326.4 363.0,324.0C360.4,321.7 357.5,320.4 355.0,317.7C352.1,314.6 348.5,310.0 347.0,306.0C345.7,302.4 345.3,298.2 346.0,295.0C346.6,292.3 348.4,290.0 350.0,288.0C351.5,286.1 353.0,284.3 355.0,283.0C357.3,281.5 360.3,280.5 363.3,279.8C366.7,279.0 371.1,279.6 374.7,279.0C378.1,278.4 381.7,277.8 384.5,276.5C387.0,275.3 388.6,273.1 391.0,271.7C393.7,270.2 397.0,269.5 400.0,268.0C403.3,266.3 407.5,264.9 410.0,262.0C412.6,259.0 414.4,253.9 415.0,250.0C415.5,246.6 414.8,243.4 414.0,240.0C413.2,236.4 411.7,233.0 410.0,229.0C408.0,224.1 405.2,218.0 402.4,213.0C399.8,208.4 397.1,202.3 394.0,200.0C391.9,198.5 389.4,199.6 387.2,198.2C384.3,196.3 381.6,191.8 379.0,188.4C376.4,185.0 371.5,181.2 371.8,177.8C372.1,174.1 379.0,167.7 382.3,167.2Z" fill="#9fa0d0" stroke="#9fa0d0" stroke-width="1" filter="url(#b2)" transform="translate(-2.2,-2.6)"/>
</g>
</g>
<path d="M517.3,222.0C517.3,213.0 517.2,203.8 517.2,195.0C517.2,186.5 517.3,176.7 517.1,170.0C517.0,165.5 516.8,162.5 516.6,158.7C516.3,154.8 516.1,150.7 515.6,147.0C515.2,143.7 514.7,140.4 514.0,137.6C513.4,135.2 512.9,133.0 511.6,131.0C510.2,128.8 508.3,126.6 505.9,125.0C503.2,123.2 499.4,121.9 496.0,121.0C492.7,120.1 489.2,119.7 486.0,119.7C483.2,119.7 480.8,119.9 478.0,120.5C474.5,121.3 470.2,123.1 466.8,124.5C463.9,125.7 460.7,127.0 459.0,128.3C458.0,129.0 457.9,130.2 457.0,130.5C455.9,130.9 454.3,129.3 452.4,129.4C449.4,129.5 444.6,131.5 441.0,133.0C437.6,134.4 434.5,136.3 431.2,137.9C427.9,139.5 425.0,141.4 421.4,142.8C417.4,144.4 412.6,145.4 408.4,146.9C404.4,148.4 400.3,149.7 397.0,151.8C393.9,153.8 391.4,156.4 388.9,159.0C386.5,161.6 384.8,164.5 382.3,167.2C379.5,170.2 376.3,173.1 372.6,176.2C368.0,180.1 361.3,184.3 356.3,188.4C351.7,192.2 347.9,196.6 343.7,200.0C339.9,203.1 335.8,205.0 332.3,208.0C328.8,211.0 325.3,214.4 322.6,218.0C319.9,221.5 317.7,225.6 316.0,229.3C314.5,232.6 313.7,235.4 312.8,239.0C311.7,243.4 311.2,248.7 310.4,253.7C309.6,259.0 308.7,264.3 307.9,270.0C307.0,276.3 306.2,284.5 305.5,290.0C305.0,293.9 304.3,297.1 304.0,300.0C303.8,302.2 303.7,303.3 303.8,306.0C304.0,311.4 304.2,322.9 306.0,330.7C307.8,338.2 310.7,345.7 314.4,352.0C317.9,358.0 322.6,363.0 327.5,368.0C332.7,373.3 339.2,378.2 345.0,383.0C350.5,387.5 355.7,392.4 361.3,396.0C366.6,399.3 372.1,401.6 377.6,404.0C383.0,406.4 388.4,408.8 393.9,410.6C399.2,412.3 404.6,413.6 410.0,414.7C415.4,415.8 420.9,416.7 426.4,417.0C431.8,417.3 437.3,417.0 442.7,416.3C448.2,415.6 454.9,413.9 459.0,413.0C461.5,412.5 462.6,412.4 465.0,411.7C468.5,410.7 473.8,409.0 478.0,407.0C482.4,404.9 487.1,402.1 491.0,399.0C494.7,396.0 498.2,392.6 501.0,389.0C503.7,385.5 505.7,381.8 507.5,377.8C509.3,373.7 510.6,368.9 511.6,364.8C512.4,361.3 512.8,359.2 513.2,355.0C513.9,347.6 513.7,333.2 514.0,324.0C514.2,316.6 514.6,310.1 514.8,304.0C515.0,298.9 514.5,293.7 515.2,290.0C515.7,287.5 516.6,286.0 517.3,284.0" fill="none" stroke="#1c1a1a" stroke-width="1.45" stroke-linecap="round" stroke-linejoin="round"/>
<path d="M517.3,284.0C518.1,286.0 519.1,287.5 519.6,290.0C520.4,293.6 520.1,298.9 520.2,304.0C520.4,310.1 520.3,317.7 520.5,324.0C520.7,329.6 521.0,334.9 521.3,340.0C521.5,344.6 521.6,348.8 522.0,353.0C522.4,357.1 523.3,360.8 523.8,365.0C524.4,369.6 524.0,375.0 525.4,379.4C526.8,383.6 529.2,387.4 531.9,390.8C534.6,394.2 538.0,397.2 541.7,399.8C545.6,402.6 549.8,405.0 554.7,407.0C560.2,409.2 567.3,410.6 573.3,412.0C578.9,413.3 584.1,414.7 589.6,415.4C595.0,416.1 600.5,416.5 605.9,416.5C611.3,416.5 616.6,416.2 622.0,415.4C627.5,414.5 633.0,413.0 638.4,411.3C643.9,409.5 649.3,407.3 654.7,404.8C660.2,402.2 665.7,399.2 671.0,395.8C676.5,392.3 681.9,388.3 687.0,384.0C692.1,379.7 697.2,374.5 701.7,370.0C705.8,365.9 709.7,362.3 713.0,358.0C716.1,353.9 718.8,349.4 721.0,345.0C723.1,340.8 724.6,336.5 726.0,332.0C727.4,327.3 728.7,322.2 729.4,317.5C730.1,313.1 730.2,308.6 730.2,304.4C730.2,300.5 729.9,296.9 729.4,293.0C728.9,288.8 727.8,284.9 727.0,280.0C725.9,273.7 724.8,264.9 723.7,258.4C722.8,253.0 721.9,248.3 721.0,243.7C720.2,239.6 719.9,235.6 718.8,232.0C717.8,228.6 716.3,225.4 714.7,222.6C713.3,220.1 711.7,218.2 709.8,216.0C707.5,213.4 704.8,210.7 701.7,208.0C698.0,204.7 692.9,201.0 688.7,198.0C684.9,195.3 681.0,193.2 677.5,190.7C674.1,188.3 671.0,185.9 668.0,183.3C665.1,180.7 662.5,177.8 659.8,175.0C657.1,172.1 654.3,168.9 651.7,166.2C649.4,163.8 647.5,161.9 645.2,159.7C642.7,157.3 639.8,154.4 637.0,152.3C634.4,150.4 631.8,148.8 628.9,147.5C625.8,146.2 622.3,145.5 619.0,144.5C615.8,143.6 612.5,143.0 609.3,141.8C606.0,140.5 603.0,138.6 599.6,136.9C596.0,135.1 592.0,132.3 588.2,131.2C584.9,130.2 580.9,129.6 578.4,130.0C576.7,130.3 575.3,132.2 574.3,132.0C573.6,131.9 573.4,131.0 572.7,130.4C571.4,129.3 568.8,127.3 567.0,126.3C565.6,125.5 564.5,125.2 562.9,124.5C560.6,123.4 557.6,121.4 554.7,120.5C551.7,119.6 548.2,119.2 545.0,119.3C541.7,119.4 538.1,120.4 535.0,121.3C532.1,122.1 529.2,123.0 527.0,124.5C525.0,125.8 523.2,127.5 522.0,129.4C520.8,131.3 520.3,133.6 519.7,136.0C519.0,138.9 518.9,142.2 518.6,145.7C518.2,149.7 517.9,154.5 517.7,158.7C517.5,162.6 517.4,165.5 517.3,170.0C517.2,176.7 517.3,186.5 517.3,195.0C517.3,203.8 517.3,213.0 517.3,222.0" fill="none" stroke="#1c1a1a" stroke-width="1.45" stroke-linecap="round" stroke-linejoin="round"/>
<path d="M457.0,130.5C458.7,134.0 460.3,137.2 462.0,141.0C464.0,145.4 466.0,150.9 468.4,155.5C470.8,160.0 473.7,164.3 476.5,168.5C479.2,172.5 482.2,176.1 484.7,180.0C487.0,183.6 489.3,187.6 491.0,191.0C492.4,193.8 493.3,196.3 494.5,199.0" fill="none" stroke="#1c1a1a" stroke-width="0.8"/>
<path d="M574.3,132.0C573.2,134.9 572.4,137.6 571.0,140.8C569.3,144.8 567.1,149.7 564.5,153.9C561.7,158.4 557.8,162.7 554.7,166.9C551.8,170.8 549.0,174.3 546.6,178.3C544.1,182.4 541.6,187.5 540.0,191.3C538.8,194.1 538.4,196.4 537.6,199.0" fill="none" stroke="#1c1a1a" stroke-width="0.8"/>
<ellipse cx="516.4" cy="261.8" rx="4.2" ry="9.8" fill="#a2a3cc" stroke="#1a1a40" stroke-width="1.1"/>
<path d="M514.9,304.5 L515.2,289 Q517.4,283 519.8,289 L520.2,304.5 Z" fill="#7b7c9e" stroke="#1c1a1a" stroke-width="1"/>
<path d="M405,822 C312.1,796.6 181.7,693.2 181.7,592 L181.7,235C181.9,228.3 181.7,221.5 182.2,215.0C182.7,208.8 183.6,202.7 184.7,197.0C185.7,191.9 186.7,187.2 188.3,182.4C189.9,177.4 191.9,172.7 194.4,167.7C197.1,162.1 200.3,156.1 204.2,150.6C208.4,144.8 214.0,138.6 218.9,134.0C223.0,130.1 226.8,127.0 231.0,124.2C235.0,121.6 239.2,119.5 243.3,117.6C247.3,115.7 251.4,114.0 255.5,112.7C259.5,111.4 263.6,110.4 267.7,109.6C271.7,108.8 275.8,108.2 279.9,107.9C284.0,107.6 288.0,107.6 292.1,107.9C296.2,108.2 300.3,108.8 304.3,109.8C308.4,110.8 312.6,112.3 316.6,114.0C320.7,115.7 324.9,117.7 328.8,120.0C332.7,122.3 336.5,124.8 340.0,127.8C343.5,130.8 346.7,134.2 349.8,137.9C353.2,141.9 356.2,146.6 359.5,151.0C362.7,155.3 366.1,160.0 369.3,164.0C372.1,167.5 374.7,170.7 377.5,173.7C380.2,176.6 382.8,179.0 385.6,181.9C388.7,185.0 392.1,188.7 395.4,191.7C398.6,194.6 401.8,197.1 405.0,199.8C408.3,202.5 411.8,205.1 415.0,208.0C418.2,210.9 421.2,214.0 424.0,217.0C426.5,219.7 428.5,222.5 431.0,225.0C433.6,227.5 436.5,229.3 439.3,231.8C442.4,234.6 445.7,238.0 448.8,241.3C452.0,244.7 455.6,248.1 458.3,252.0C461.0,255.8 463.4,260.1 465.0,264.3C466.5,268.3 467.6,273.2 467.8,276.6C467.9,279.1 467.3,280.9 467.0,283.0" fill="none" stroke="#fff" stroke-width="5.7"/>
<path d="M384.8,176.4C387.2,176.3 389.4,176.7 392.0,176.2C395.1,175.7 398.7,174.4 401.9,172.9C405.3,171.4 408.6,169.5 411.7,167.2C415.1,164.7 418.5,161.6 421.4,158.3C424.2,155.1 426.9,151.4 428.8,147.7C430.7,144.1 432.0,140.1 432.8,136.3C433.5,132.8 433.4,129.4 433.7,126.0" fill="none" stroke="#fff" stroke-width="5.7"/>
<path d="M424.5,217.5 Q428.2,224 428.4,238.6" fill="none" stroke="#fff" stroke-width="5.7"/>
<path d="M405,822 C312.1,796.6 181.7,693.2 181.7,592 L181.7,235C181.9,228.3 181.7,221.5 182.2,215.0C182.7,208.8 183.6,202.7 184.7,197.0C185.7,191.9 186.7,187.2 188.3,182.4C189.9,177.4 191.9,172.7 194.4,167.7C197.1,162.1 200.3,156.1 204.2,150.6C208.4,144.8 214.0,138.6 218.9,134.0C223.0,130.1 226.8,127.0 231.0,124.2C235.0,121.6 239.2,119.5 243.3,117.6C247.3,115.7 251.4,114.0 255.5,112.7C259.5,111.4 263.6,110.4 267.7,109.6C271.7,108.8 275.8,108.2 279.9,107.9C284.0,107.6 288.0,107.6 292.1,107.9C296.2,108.2 300.3,108.8 304.3,109.8C308.4,110.8 312.6,112.3 316.6,114.0C320.7,115.7 324.9,117.7 328.8,120.0C332.7,122.3 336.5,124.8 340.0,127.8C343.5,130.8 346.7,134.2 349.8,137.9C353.2,141.9 356.2,146.6 359.5,151.0C362.7,155.3 366.1,160.0 369.3,164.0C372.1,167.5 374.7,170.7 377.5,173.7C380.2,176.6 382.8,179.0 385.6,181.9C388.7,185.0 392.1,188.7 395.4,191.7C398.6,194.6 401.8,197.1 405.0,199.8C408.3,202.5 411.8,205.1 415.0,208.0C418.2,210.9 421.2,214.0 424.0,217.0C426.5,219.7 428.5,222.5 431.0,225.0C433.6,227.5 436.5,229.3 439.3,231.8C442.4,234.6 445.7,238.0 448.8,241.3C452.0,244.7 455.6,248.1 458.3,252.0C461.0,255.8 463.4,260.1 465.0,264.3C466.5,268.3 467.6,273.2 467.8,276.6C467.9,279.1 467.3,280.9 467.0,283.0" fill="none" stroke="#1b8ccc" stroke-width="2.9"/>
<path d="M384.8,176.4C387.2,176.3 389.4,176.7 392.0,176.2C395.1,175.7 398.7,174.4 401.9,172.9C405.3,171.4 408.6,169.5 411.7,167.2C415.1,164.7 418.5,161.6 421.4,158.3C424.2,155.1 426.9,151.4 428.8,147.7C430.7,144.1 432.0,140.1 432.8,136.3C433.5,132.8 433.4,129.4 433.7,126.0" fill="none" stroke="#1b8ccc" stroke-width="2.9"/>
<path d="M424.5,217.5 Q428.2,224 428.4,238.6" fill="none" stroke="#1b8ccc" stroke-width="2.5"/>
<path d="M433.7,126.5C433.4,124.3 433.4,122.1 432.8,120.0C432.2,117.9 431.1,116.0 430.0,114.0C428.8,111.8 427.1,109.6 425.5,107.5C423.8,105.3 421.7,102.8 420.0,101.0C418.7,99.6 417.7,98.7 416.5,97.5" fill="none" stroke="#1b8ccc" stroke-width="2.90" stroke-linecap="butt" stroke-dasharray="6.2 5"/>
<path d="M280.2,107.5 L280.2,98" stroke="#1b8ccc" stroke-width="2.3" fill="none"/>
<circle cx="280" cy="93.2" r="5.6" fill="#a9d2ee" stroke="#1b8ccc" stroke-width="1.9"/>
<path d="M422.3,245 L428.4,238.6 L433,244.5" fill="none" stroke="#fff" stroke-width="4.10" stroke-linecap="round"/>
<path d="M422.3,245 L428.4,238.6 L433,244.5" fill="none" stroke="#1b8ccc" stroke-width="2.30" stroke-linecap="round"/>
<path d="M459,284.5 L467,282.6 L466.5,289" fill="none" stroke="#fff" stroke-width="4.10" stroke-linecap="round"/>
<path d="M459,284.5 L467,282.6 L466.5,289" fill="none" stroke="#1b8ccc" stroke-width="2.30" stroke-linecap="round"/>
<path d="M318.0,191.9C313.9,193.9 309.3,195.8 305.6,198.0C302.3,200.0 299.0,202.2 296.6,204.5C294.6,206.4 293.4,208.5 291.8,210.5" fill="none" stroke="#151313" stroke-width="2.40" stroke-linecap="butt" stroke-dasharray="5.5 4.5"/>
<path d="M332.7,194.2C328.4,196.5 323.7,198.7 319.9,201.0C316.7,203.0 313.9,205.2 311.3,207.0C309.2,208.5 307.5,209.7 305.6,211.0" fill="none" stroke="#58a845" stroke-width="2.40" stroke-linecap="butt" stroke-dasharray="5.5 4.5"/>
<path d="M294.5,214 L301,214" fill="none" stroke="#151313" stroke-width="2.2"/>
<path d="M304.9,211.3C304.5,212.5 303.6,213.7 303.7,215.0C303.8,216.4 304.8,218.3 306.0,219.4C307.3,220.6 308.8,220.8 311.3,221.8C316.9,224.2 330.0,229.2 338.9,232.6C347.3,235.8 355.2,238.3 363.3,241.5C371.5,244.7 380.4,248.8 387.7,252.0C393.7,254.7 399.6,258.0 404.0,259.5C406.8,260.5 408.9,261.1 411.0,261.3C412.7,261.5 414.0,261.1 415.5,261.0" fill="none" stroke="#fff" stroke-width="4.20" stroke-linecap="butt"/>
<path d="M304.9,211.3C304.5,212.5 303.6,213.7 303.7,215.0C303.8,216.4 304.8,218.3 306.0,219.4C307.3,220.6 308.8,220.8 311.3,221.8C316.9,224.2 330.0,229.2 338.9,232.6C347.3,235.8 355.2,238.3 363.3,241.5C371.5,244.7 380.4,248.8 387.7,252.0C393.7,254.7 399.6,258.0 404.0,259.5C406.8,260.5 408.9,261.1 411.0,261.3C412.7,261.5 414.0,261.1 415.5,261.0" fill="none" stroke="#58a845" stroke-width="2.40" stroke-linecap="butt"/>
<path d="M418,256.5 L415,261 L419,265.5" fill="none" stroke="#fff" stroke-width="4.00" stroke-linecap="round"/>
<path d="M418,256.5 L415,261 L419,265.5" fill="none" stroke="#58a845" stroke-width="2.20" stroke-linecap="round"/>
<path d="M292.5,222.8C293.0,223.4 293.1,223.9 294.0,224.6C296.3,226.4 303.7,229.2 308.5,231.3C313.2,233.3 317.8,235.0 322.7,237.0C327.9,239.1 333.0,241.2 338.9,243.6C346.2,246.6 355.2,250.3 363.3,253.7C371.4,257.2 380.8,261.5 387.7,264.3C392.7,266.3 396.7,268.3 400.7,269.3C404.0,270.1 407.1,270.6 410.0,270.3C412.7,270.0 415.5,268.8 417.6,267.7C419.2,266.8 420.3,265.6 421.6,264.5" fill="none" stroke="#fff" stroke-width="4.20" stroke-linecap="butt"/>
<path d="M292.5,222.8C293.0,223.4 293.1,223.9 294.0,224.6C296.3,226.4 303.7,229.2 308.5,231.3C313.2,233.3 317.8,235.0 322.7,237.0C327.9,239.1 333.0,241.2 338.9,243.6C346.2,246.6 355.2,250.3 363.3,253.7C371.4,257.2 380.8,261.5 387.7,264.3C392.7,266.3 396.7,268.3 400.7,269.3C404.0,270.1 407.1,270.6 410.0,270.3C412.7,270.0 415.5,268.8 417.6,267.7C419.2,266.8 420.3,265.6 421.6,264.5" fill="none" stroke="#151313" stroke-width="2.40" stroke-linecap="butt"/>
<path d="M292.6,207.8C291.9,209.4 291.0,210.8 290.6,212.5C290.2,214.3 289.8,216.8 290.2,218.5C290.6,220.0 291.4,221.4 292.6,222.3C294.0,223.4 296.5,223.9 298.5,224.2C300.6,224.5 303.0,224.4 305.0,224.0C306.8,223.7 308.7,223.1 310.0,222.2C311.1,221.5 312.1,220.5 312.5,219.5C312.8,218.7 312.9,217.8 312.6,217.0C312.2,216.0 310.5,215.2 309.5,214.3" fill="none" stroke="#151313" stroke-width="2.4" stroke-linecap="round"/>
<path d="M398.5,311.0C398.0,312.2 397.5,313.1 396.9,314.5C396.0,316.7 394.6,320.1 393.5,323.0C392.4,326.0 391.2,329.2 390.2,332.4C389.2,335.8 388.3,339.4 387.5,343.0C386.6,346.8 385.9,350.8 385.2,354.7C384.5,358.5 383.8,362.3 383.2,366.0C382.6,369.7 382.2,373.3 381.8,377.0C381.4,380.7 381.1,384.3 380.9,388.0C380.7,391.8 380.7,395.1 380.7,399.5C380.7,405.4 380.8,413.4 381.3,420.0C381.8,426.3 382.6,433.0 383.8,438.3C384.8,442.5 385.9,445.8 387.5,449.3C389.0,452.7 390.7,455.8 393.0,459.0C395.7,462.6 399.8,465.8 403.0,469.5C406.2,473.3 409.0,477.2 412.2,481.4C415.9,486.2 419.9,491.5 424.0,497.0C428.7,503.2 434.2,510.3 438.8,517.0C443.3,523.6 447.7,530.8 451.6,537.0C454.9,542.3 458.4,547.8 460.8,552.0C462.5,554.9 463.7,557.0 464.8,559.5C465.8,561.7 466.5,563.7 467.0,566.0C467.5,568.5 467.8,571.3 467.7,574.0C467.6,576.9 467.0,580.3 466.5,583.0C466.1,585.2 465.5,586.9 465.0,588.8" fill="none" stroke="#fff" stroke-width="5.50" stroke-linecap="butt"/>
<path d="M398.5,311.0C398.0,312.2 397.5,313.1 396.9,314.5C396.0,316.7 394.6,320.1 393.5,323.0C392.4,326.0 391.2,329.2 390.2,332.4C389.2,335.8 388.3,339.4 387.5,343.0C386.6,346.8 385.9,350.8 385.2,354.7C384.5,358.5 383.8,362.3 383.2,366.0C382.6,369.7 382.2,373.3 381.8,377.0C381.4,380.7 381.1,384.3 380.9,388.0C380.7,391.8 380.7,395.1 380.7,399.5C380.7,405.4 380.8,413.4 381.3,420.0C381.8,426.3 382.6,433.0 383.8,438.3C384.8,442.5 385.9,445.8 387.5,449.3C389.0,452.7 390.7,455.8 393.0,459.0C395.7,462.6 399.8,465.8 403.0,469.5C406.2,473.3 409.0,477.2 412.2,481.4C415.9,486.2 419.9,491.5 424.0,497.0C428.7,503.2 434.2,510.3 438.8,517.0C443.3,523.6 447.7,530.8 451.6,537.0C454.9,542.3 458.4,547.8 460.8,552.0C462.5,554.9 463.7,557.0 464.8,559.5C465.8,561.7 466.5,563.7 467.0,566.0C467.5,568.5 467.8,571.3 467.7,574.0C467.6,576.9 467.0,580.3 466.5,583.0C466.1,585.2 465.5,586.9 465.0,588.8" fill="none" stroke="#c4143c" stroke-width="2.90" stroke-linecap="butt"/>
<path d="M426.0,350.0C424.9,351.6 423.8,352.7 422.6,354.7C420.8,357.6 418.5,362.2 417.0,366.0C415.6,369.6 414.5,373.3 413.7,377.0C412.9,380.7 412.3,384.5 412.0,388.3C411.7,392.0 411.8,395.8 412.0,399.5C412.2,403.2 412.6,407.1 413.1,410.7C413.6,414.0 413.9,416.4 414.8,420.0C416.0,425.1 418.0,432.9 420.4,438.3C422.5,443.1 424.8,447.2 427.8,451.0C430.9,454.8 435.2,457.7 438.8,461.2C442.5,464.8 445.9,468.5 449.7,472.2C453.8,476.1 458.1,479.8 462.6,484.0C467.7,488.7 473.6,493.6 478.9,499.0C484.4,504.7 490.7,510.9 495.0,517.5C499.2,523.9 501.9,531.8 504.7,538.0C507.0,543.1 509.1,547.4 510.8,552.0C512.3,556.2 513.5,560.3 514.5,564.4C515.5,568.5 516.3,572.5 516.9,576.6C517.5,580.7 517.7,585.6 517.9,588.8C518.0,590.8 518.0,592.1 518.1,593.7" fill="none" stroke="#fff" stroke-width="5.50" stroke-linecap="butt"/>
<path d="M426.0,350.0C424.9,351.6 423.8,352.7 422.6,354.7C420.8,357.6 418.5,362.2 417.0,366.0C415.6,369.6 414.5,373.3 413.7,377.0C412.9,380.7 412.3,384.5 412.0,388.3C411.7,392.0 411.8,395.8 412.0,399.5C412.2,403.2 412.6,407.1 413.1,410.7C413.6,414.0 413.9,416.4 414.8,420.0C416.0,425.1 418.0,432.9 420.4,438.3C422.5,443.1 424.8,447.2 427.8,451.0C430.9,454.8 435.2,457.7 438.8,461.2C442.5,464.8 445.9,468.5 449.7,472.2C453.8,476.1 458.1,479.8 462.6,484.0C467.7,488.7 473.6,493.6 478.9,499.0C484.4,504.7 490.7,510.9 495.0,517.5C499.2,523.9 501.9,531.8 504.7,538.0C507.0,543.1 509.1,547.4 510.8,552.0C512.3,556.2 513.5,560.3 514.5,564.4C515.5,568.5 516.3,572.5 516.9,576.6C517.5,580.7 517.7,585.6 517.9,588.8C518.0,590.8 518.0,592.1 518.1,593.7" fill="none" stroke="#c4143c" stroke-width="2.90" stroke-linecap="butt"/>
<path d="M465.3,587.5 C463.5,591.5 459,594.8 453.4,596.2" fill="none" stroke="#fff" stroke-width="3.6" stroke-linecap="round"/>
<path d="M465,589 C464.5,593.5 462.5,597.5 460,600.4" fill="none" stroke="#fff" stroke-width="3.6" stroke-linecap="round"/>
<path d="M465.2,588.5 C467.5,592.5 468.8,598 468,603.5" fill="none" stroke="#fff" stroke-width="3.6" stroke-linecap="round"/>
<path d="M518.1,592 C517.5,598 514.5,603 510.8,606.5" fill="none" stroke="#fff" stroke-width="3.6" stroke-linecap="round"/>
<path d="M518.1,592.5 L518.1,604.7" fill="none" stroke="#fff" stroke-width="3.6" stroke-linecap="round"/>
<path d="M518.2,592 C519.5,597.5 523,602.5 527.3,606" fill="none" stroke="#fff" stroke-width="3.6" stroke-linecap="round"/>
<path d="M465.3,587.5 C463.5,591.5 459,594.8 453.4,596.2" fill="none" stroke="#c4143c" stroke-width="1.7" stroke-linecap="round"/>
<path d="M465,589 C464.5,593.5 462.5,597.5 460,600.4" fill="none" stroke="#c4143c" stroke-width="1.7" stroke-linecap="round"/>
<path d="M465.2,588.5 C467.5,592.5 468.8,598 468,603.5" fill="none" stroke="#c4143c" stroke-width="1.7" stroke-linecap="round"/>
<path d="M518.1,592 C517.5,598 514.5,603 510.8,606.5" fill="none" stroke="#c4143c" stroke-width="1.7" stroke-linecap="round"/>
<path d="M518.1,592.5 L518.1,604.7" fill="none" stroke="#c4143c" stroke-width="1.7" stroke-linecap="round"/>
<path d="M518.2,592 C519.5,597.5 523,602.5 527.3,606" fill="none" stroke="#c4143c" stroke-width="1.7" stroke-linecap="round"/>
<path d="M426.5,270.0C426.1,272.0 426.0,274.1 425.2,276.0C424.4,278.1 423.0,280.3 421.5,282.0C420.0,283.6 418.0,284.7 416.2,286.0" fill="none" stroke="#fff" stroke-width="4.10" stroke-linecap="butt"/>
<path d="M426.5,270.0C426.1,272.0 426.0,274.1 425.2,276.0C424.4,278.1 423.0,280.3 421.5,282.0C420.0,283.6 418.0,284.7 416.2,286.0" fill="none" stroke="#151313" stroke-width="2.30" stroke-linecap="butt"/>
<path d="M409.6,287.5 L416.2,286 L416.9,292.5" fill="none" stroke="#fff" stroke-width="4.10" stroke-linecap="round"/>
<path d="M409.6,287.5 L416.2,286 L416.9,292.5" fill="none" stroke="#151313" stroke-width="2.30" stroke-linecap="round"/>
<path d="M452.8,310.5C451.0,313.4 449.2,316.6 447.4,319.3C445.8,321.7 444.3,323.8 442.7,326.0" fill="none" stroke="#fff" stroke-width="4.10" stroke-linecap="butt"/>
<path d="M452.8,310.5C451.0,313.4 449.2,316.6 447.4,319.3C445.8,321.7 444.3,323.8 442.7,326.0" fill="none" stroke="#5e3aa0" stroke-width="2.30" stroke-linecap="butt"/>
<path d="M433.5,327.6 L442,326.4 L441.4,334.3" fill="none" stroke="#fff" stroke-width="4.10" stroke-linecap="round"/>
<path d="M433.5,327.6 L442,326.4 L441.4,334.3" fill="none" stroke="#5e3aa0" stroke-width="2.30" stroke-linecap="round"/>
<path d="M437.5,248.9Q437.2,256.5 444.1,257.6Q438.5,261.8 442.5,268.3Q435.2,266.2 432.6,272.1Q429.7,266.4 422.5,268.9Q426.2,262.2 420.8,258.3Q427.2,256.8 426.4,249.2Q432.1,254.3 437.5,248.9Z" fill="#fff" stroke="#fff" stroke-width="3.6" stroke-linejoin="round"/>
<path d="M437.5,248.9Q437.2,256.5 444.1,257.6Q438.5,261.8 442.5,268.3Q435.2,266.2 432.6,272.1Q429.7,266.4 422.5,268.9Q426.2,262.2 420.8,258.3Q427.2,256.8 426.4,249.2Q432.1,254.3 437.5,248.9Z" fill="#8b8b8d" stroke="#151313" stroke-width="1.5" stroke-linejoin="miter"/>
<circle cx="420.6" cy="262.6" r="1.6" fill="#151313"/>
<path d="M404.5,289.4Q405.7,296.4 411.5,295.2Q408.4,300.2 414.6,303.7Q407.6,304.9 409.2,311.2Q403.8,307.6 400.3,313.8Q399.1,306.8 393.3,308.0Q396.4,303.0 390.2,299.5Q397.2,298.3 395.8,292.3Q401.0,295.6 404.5,289.4Z" fill="#fff" stroke="#fff" stroke-width="3.6" stroke-linejoin="round"/>
<path d="M404.5,289.4Q405.7,296.4 411.5,295.2Q408.4,300.2 414.6,303.7Q407.6,304.9 409.2,311.2Q403.8,307.6 400.3,313.8Q399.1,306.8 393.3,308.0Q396.4,303.0 390.2,299.5Q397.2,298.3 395.8,292.3Q401.0,295.6 404.5,289.4Z" fill="#e47676" stroke="#c4143c" stroke-width="1.5" stroke-linejoin="miter"/>
<path d="M429.2,331.0Q431.6,337.7 437.1,335.5Q434.9,341.1 441.6,343.4Q434.9,345.8 437.5,351.7Q431.5,349.1 429.2,355.8Q426.8,349.1 421.3,351.3Q423.5,345.7 416.8,343.4Q423.5,341.0 421.1,335.3Q426.9,337.7 429.2,331.0Z" fill="#fff" stroke="#fff" stroke-width="3.6" stroke-linejoin="round"/>
<path d="M429.2,331.0Q431.6,337.7 437.1,335.5Q434.9,341.1 441.6,343.4Q434.9,345.8 437.5,351.7Q431.5,349.1 429.2,355.8Q426.8,349.1 421.3,351.3Q423.5,345.7 416.8,343.4Q423.5,341.0 421.1,335.3Q426.9,337.7 429.2,331.0Z" fill="#e47676" stroke="#c4143c" stroke-width="1.5" stroke-linejoin="miter"/>
<path d="M459.6,288.0Q461.1,295.4 467.8,294.9Q463.7,300.3 469.2,305.5Q461.6,305.3 460.6,311.7Q456.3,306.9 450.0,311.0Q451.8,303.7 445.3,301.3Q451.5,298.2 448.9,291.0Q455.7,294.5 459.6,288.0Z" fill="#fff" stroke="#fff" stroke-width="3.6" stroke-linejoin="round"/>
<path d="M459.6,288.0Q461.1,295.4 467.8,294.9Q463.7,300.3 469.2,305.5Q461.6,305.3 460.6,311.7Q456.3,306.9 450.0,311.0Q451.8,303.7 445.3,301.3Q451.5,298.2 448.9,291.0Q455.7,294.5 459.6,288.0Z" fill="#9274bd" stroke="#5e3aa0" stroke-width="1.5" stroke-linejoin="miter"/>
<circle cx="429.8" cy="304.4" r="9.8" fill="#151313"/>
<rect x="423.3" y="302.4" width="13" height="4" fill="#fff"/>
<circle cx="403" cy="469.5" r="13.7" fill="#151313"/>
<path d="M401.7,459.6 L404.7,459.6 L404.7,468 L407.5,468 L403.2,479.4 L398.9,468 L401.7,468 Z" fill="#fff"/>
<circle cx="438.8" cy="461.2" r="12.9" fill="#5bac47" stroke="#12240f" stroke-width="1.8"/>
<path d="M437.2,472 L440.2,472 L440.2,463.3 L443,463.3 L438.7,451.6 L434.4,463.3 L437.2,463.3 Z" fill="#fff"/>
<ellipse cx="412" cy="824" rx="8.5" ry="10" fill="#fff" opacity="0.9" filter="url(#b2)" transform="rotate(-25 412 824)"/>
<path d="M403.6,821.7 C406.5,820.5 409,818 411.5,817 C414,816.2 416.8,816.3 417.8,818.2" fill="none" stroke="#fff" stroke-width="3.6" stroke-linecap="round"/>
<path d="M404.5,822 C408,822.4 412.5,822.4 417.1,825.1" fill="none" stroke="#fff" stroke-width="3.6" stroke-linecap="round"/>
<path d="M405.5,822.6 C408,825 411,828.5 412.7,831.9" fill="none" stroke="#fff" stroke-width="3.6" stroke-linecap="round"/>
<path d="M403.6,821.7 C406.5,820.5 409,818 411.5,817 C414,816.2 416.8,816.3 417.8,818.2" fill="none" stroke="#1b8ccc" stroke-width="1.5" stroke-linecap="round"/>
<path d="M404.5,822 C408,822.4 412.5,822.4 417.1,825.1" fill="none" stroke="#1b8ccc" stroke-width="1.5" stroke-linecap="round"/>
<path d="M405.5,822.6 C408,825 411,828.5 412.7,831.9" fill="none" stroke="#1b8ccc" stroke-width="1.5" stroke-linecap="round"/>
<path d="M328.7,37.9 L302.7,105" fill="none" stroke="#fff" stroke-width="4.70" stroke-linecap="butt"/>
<path d="M328.7,37.9 L302.7,105" fill="none" stroke="#151313" stroke-width="2.70" stroke-linecap="butt"/>
<path d="M513.6,62.3 L440.6,246.7" fill="none" stroke="#fff" stroke-width="4.70" stroke-linecap="butt"/>
<path d="M513.6,62.3 L440.6,246.7" fill="none" stroke="#151313" stroke-width="2.70" stroke-linecap="butt"/>
<path d="M158,197 L290.5,219.6" fill="none" stroke="#fff" stroke-width="4.70" stroke-linecap="butt"/>
<path d="M158,197 L290.5,219.6" fill="none" stroke="#151313" stroke-width="2.70" stroke-linecap="butt"/>
<path d="M320.7,418.6 L393,314.5" fill="none" stroke="#fff" stroke-width="4.70" stroke-linecap="butt"/>
<path d="M320.7,418.6 L393,314.5" fill="none" stroke="#151313" stroke-width="2.70" stroke-linecap="butt"/>
<path d="M328.7,577.5 L435.8,618.6" fill="none" stroke="#fff" stroke-width="4.70" stroke-linecap="butt"/>
<path d="M328.7,577.5 L435.8,618.6" fill="none" stroke="#151313" stroke-width="2.70" stroke-linecap="butt"/>
<path d="M603,597.5 L528,638.5" fill="none" stroke="#fff" stroke-width="4.70" stroke-linecap="butt"/>
<path d="M603,597.5 L528,638.5" fill="none" stroke="#151313" stroke-width="2.70" stroke-linecap="butt"/>
<path d="M315,702 L408.8,813.5" fill="none" stroke="#fff" stroke-width="4.70" stroke-linecap="butt"/>
<path d="M315,702 L408.8,813.5" fill="none" stroke="#151313" stroke-width="2.70" stroke-linecap="butt"/>
<g style="will-change:opacity;opacity:0.999">
<text class="lbl" x="282.3" y="27.7" textLength="124.0" lengthAdjust="spacingAndGlyphs">Ib afferent</text>
<text class="lbl" x="513.2" y="27.4" textLength="149.6" lengthAdjust="spacingAndGlyphs">Ib inhibitory</text>
<text class="lbl" x="512.9" y="55.0" textLength="137.9" lengthAdjust="spacingAndGlyphs">interneuron</text>
<text class="lbl" x="10.2" y="200.4" textLength="136.5" lengthAdjust="spacingAndGlyphs">Descending</text>
<text class="lbl" x="10.7" y="227.9" textLength="109.8" lengthAdjust="spacingAndGlyphs">pathways</text>
<text class="lbl" x="238.7" y="432.2" textLength="70.9" lengthAdjust="spacingAndGlyphs">Motor</text>
<text class="lbl" x="237.7" y="460.6" textLength="82.5" lengthAdjust="spacingAndGlyphs">neuron</text>
<text class="lbl" x="238.5" y="553.2" textLength="70.7" lengthAdjust="spacingAndGlyphs">Flexor</text>
<text class="lbl" x="237.1" y="581.4" textLength="82.0" lengthAdjust="spacingAndGlyphs">muscle</text>
<text class="lbl" x="610.4" y="569.8" textLength="98.8" lengthAdjust="spacingAndGlyphs">Extensor</text>
<text class="lbl" x="608.3" y="597.9" textLength="82.0" lengthAdjust="spacingAndGlyphs">muscle</text>
<text class="lbl" x="237.6" y="673.2" textLength="153.8" lengthAdjust="spacingAndGlyphs">Golgi tendon</text>
<text class="lbl" x="237.2" y="700.9" textLength="66.2" lengthAdjust="spacingAndGlyphs">organ</text>
</g>
</svg>
</body>
</html>
